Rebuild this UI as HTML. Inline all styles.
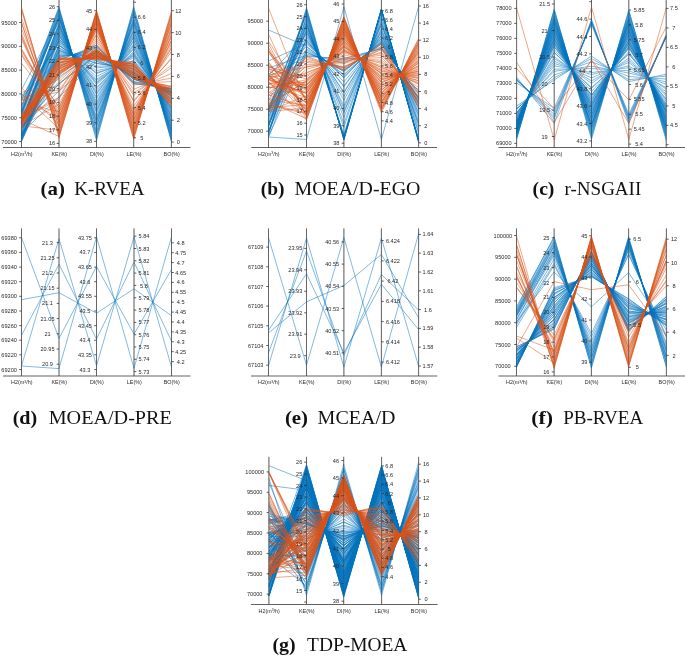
<!DOCTYPE html>
<html><head><meta charset="utf-8"><title>Figure</title>
<style>html,body{margin:0;padding:0;background:#fff;}body{width:685px;height:656px;overflow:hidden;font-family:"Liberation Sans",sans-serif;}svg{display:block;will-change:transform;}</style>
</head><body>
<svg width="685" height="656" viewBox="0 0 685 656" font-family="Liberation Sans, sans-serif" fill="#2a2a2a">
<line x1="21.5" y1="-1.0" x2="21.5" y2="147.5" stroke="#3a3a3a" stroke-width="0.72"/>
<line x1="59.0" y1="-1.0" x2="59.0" y2="147.5" stroke="#3a3a3a" stroke-width="0.72"/>
<line x1="96.5" y1="-1.0" x2="96.5" y2="147.5" stroke="#3a3a3a" stroke-width="0.72"/>
<line x1="133.7" y1="-1.0" x2="133.7" y2="147.5" stroke="#3a3a3a" stroke-width="0.72"/>
<line x1="171.4" y1="-1.0" x2="171.4" y2="147.5" stroke="#3a3a3a" stroke-width="0.72"/>
<path d="M21.5 136.7 L59.0 60.3 L96.5 45.2 L133.7 83.3 L171.4 88.9 M21.5 97.2 L59.0 59.5 L96.5 46.8 L133.7 81.3 L171.4 89.6 M21.5 140.7 L59.0 57.6 L96.5 49.4 L133.7 79.1 L171.4 91.4 M21.5 139.1 L59.0 57.0 L96.5 50.9 L133.7 78.3 L171.4 91.9 M21.5 136.5 L59.0 55.9 L96.5 53.1 L133.7 77.3 L171.4 92.7 M21.5 136.5 L59.0 55.2 L96.5 55.0 L133.7 75.0 L171.4 94.4 M21.5 136.1 L59.0 54.1 L96.5 55.8 L133.7 74.1 L171.4 94.4 M21.5 141.6 L59.0 52.7 L96.5 58.5 L133.7 72.7 L171.4 96.1 M21.5 139.7 L59.0 51.4 L96.5 61.1 L133.7 70.9 L171.4 97.1 M21.5 132.7 L59.0 50.1 L96.5 63.4 L133.7 69.1 L171.4 98.7 M21.5 137.5 L59.0 50.4 L96.5 63.4 L133.7 68.5 L171.4 98.7 M21.5 139.3 L59.0 48.5 L96.5 66.1 L133.7 66.1 L171.4 100.0 M21.5 134.8 L59.0 47.7 L96.5 67.8 L133.7 65.0 L171.4 100.7 M21.5 138.2 L59.0 45.7 L96.5 70.7 L133.7 62.7 L171.4 102.6 M21.5 128.9 L59.0 45.2 L96.5 72.7 L133.7 61.3 L171.4 103.6 M21.5 135.8 L59.0 44.8 L96.5 73.6 L133.7 60.3 L171.4 104.4 M21.5 96.6 L59.0 43.0 L96.5 76.6 L133.7 57.7 L171.4 106.5 M21.5 100.4 L59.0 41.7 L96.5 79.2 L133.7 56.0 L171.4 107.6 M21.5 131.8 L59.0 41.0 L96.5 80.5 L133.7 55.1 L171.4 108.2 M21.5 129.2 L59.0 39.4 L96.5 82.2 L133.7 54.0 L171.4 109.5 M21.5 125.2 L59.0 39.2 L96.5 83.1 L133.7 53.0 L171.4 109.4 M21.5 133.5 L59.0 38.2 L96.5 84.6 L133.7 51.6 L171.4 110.7 M21.5 132.3 L59.0 36.1 L96.5 87.5 L133.7 49.2 L171.4 112.1 M21.5 127.1 L59.0 35.9 L96.5 89.0 L133.7 48.1 L171.4 113.0 M21.5 123.4 L59.0 35.1 L96.5 91.2 L133.7 46.4 L171.4 114.2 M21.5 122.9 L59.0 33.9 L96.5 93.2 L133.7 45.0 L171.4 115.6 M21.5 123.7 L59.0 32.6 L96.5 94.3 L133.7 43.6 L171.4 116.2 M21.5 119.9 L59.0 31.6 L96.5 97.2 L133.7 41.1 L171.4 117.3 M21.5 123.3 L59.0 30.2 L96.5 99.0 L133.7 40.2 L171.4 118.3 M21.5 122.1 L59.0 28.9 L96.5 101.7 L133.7 37.5 L171.4 119.9 M21.5 121.8 L59.0 28.0 L96.5 103.5 L133.7 37.1 L171.4 121.1 M21.5 119.6 L59.0 26.2 L96.5 105.4 L133.7 35.1 L171.4 121.9 M21.5 124.5 L59.0 25.7 L96.5 107.1 L133.7 33.8 L171.4 123.0 M21.5 123.6 L59.0 24.8 L96.5 109.5 L133.7 31.5 L171.4 124.3 M21.5 120.3 L59.0 23.6 L96.5 111.2 L133.7 30.8 L171.4 125.6 M21.5 122.1 L59.0 22.9 L96.5 112.7 L133.7 29.4 L171.4 126.3 M21.5 100.0 L59.0 21.2 L96.5 115.8 L133.7 26.9 L171.4 127.8 M21.5 111.1 L59.0 19.4 L96.5 117.7 L133.7 25.1 L171.4 129.2 M21.5 111.5 L59.0 18.5 L96.5 119.6 L133.7 23.5 L171.4 129.8 M21.5 89.8 L59.0 17.9 L96.5 121.2 L133.7 22.7 L171.4 131.0 M21.5 115.2 L59.0 16.9 L96.5 122.0 L133.7 21.5 L171.4 131.4 M21.5 117.0 L59.0 16.5 L96.5 124.0 L133.7 19.9 L171.4 132.4 M21.5 112.4 L59.0 15.4 L96.5 126.4 L133.7 18.5 L171.4 133.7 M21.5 114.4 L59.0 14.3 L96.5 127.2 L133.7 17.6 L171.4 134.5 M21.5 114.4 L59.0 12.4 L96.5 131.0 L133.7 14.3 L171.4 136.4 M21.5 113.3 L59.0 11.5 L96.5 132.1 L133.7 13.3 L171.4 137.0 M21.5 110.7 L59.0 10.0 L96.5 134.6 L133.7 11.5 L171.4 138.9 M21.5 108.6 L59.0 9.3 L96.5 135.7 L133.7 10.7 L171.4 139.0 M21.5 106.3 L59.0 8.0 L96.5 138.7 L133.7 8.1 L171.4 140.7 M21.5 106.5 L59.0 6.8 L96.5 140.6 L133.7 6.8 L171.4 141.6 M21.5 141.0 L59.0 63.6 L96.5 45.1 L133.7 83.7 L171.4 88.2 M21.5 127.5 L59.0 67.3 L96.5 47.0 L133.7 82.1 L171.4 89.1 M21.5 136.3 L59.0 73.7 L96.5 50.9 L133.7 79.1 L171.4 90.7 M21.5 127.7 L59.0 76.8 L96.5 52.4 L133.7 79.2 L171.4 92.4 M21.5 127.1 L59.0 83.3 L96.5 54.9 L133.7 77.0 L171.4 92.4 M21.5 128.2 L59.0 83.8 L96.5 55.9 L133.7 76.2 L171.4 93.3 M21.5 127.4 L59.0 90.9 L96.5 59.7 L133.7 74.7 L171.4 95.4 M21.5 133.0 L59.0 96.9 L96.5 61.5 L133.7 72.7 L171.4 95.5" fill="none" stroke="#0072BD" stroke-width="0.5" stroke-opacity="1" stroke-linejoin="round"/>
<path d="M21.5 122.3 L59.0 57.0 L96.5 59.7 L133.7 61.9 L171.4 106.4 M21.5 115.1 L59.0 58.3 L96.5 59.6 L133.7 63.3 L171.4 106.2 M21.5 116.5 L59.0 58.8 L96.5 58.6 L133.7 63.9 L171.4 104.9 M21.5 123.0 L59.0 58.9 L96.5 58.5 L133.7 64.1 L171.4 104.8 M21.5 118.4 L59.0 59.5 L96.5 58.5 L133.7 64.7 L171.4 103.5 M21.5 127.5 L59.0 60.2 L96.5 57.4 L133.7 64.9 L171.4 103.2 M21.5 120.4 L59.0 60.2 L96.5 58.3 L133.7 65.9 L171.4 102.3 M21.5 121.0 L59.0 61.8 L96.5 57.1 L133.7 66.2 L171.4 102.3 M21.5 117.1 L59.0 62.4 L96.5 57.0 L133.7 66.5 L171.4 101.1 M21.5 117.9 L59.0 62.5 L96.5 56.3 L133.7 67.2 L171.4 100.7 M21.5 125.0 L59.0 62.9 L96.5 56.6 L133.7 67.7 L171.4 100.5 M21.5 118.1 L59.0 63.1 L96.5 56.4 L133.7 68.5 L171.4 99.4 M21.5 117.7 L59.0 64.4 L96.5 55.6 L133.7 69.1 L171.4 98.6 M21.5 120.4 L59.0 65.0 L96.5 55.7 L133.7 68.8 L171.4 97.6 M21.5 122.3 L59.0 65.3 L96.5 54.7 L133.7 69.9 L171.4 96.3 M21.5 126.6 L59.0 66.1 L96.5 54.3 L133.7 70.5 L171.4 96.0 M21.5 120.4 L59.0 66.4 L96.5 54.3 L133.7 71.4 L171.4 95.8 M21.5 122.2 L59.0 67.7 L96.5 53.5 L133.7 72.1 L171.4 95.2 M21.5 115.2 L59.0 68.3 L96.5 53.3 L133.7 72.2 L171.4 93.8 M21.5 115.1 L59.0 68.4 L96.5 53.0 L133.7 73.0 L171.4 93.4 M21.5 118.2 L59.0 69.2 L96.5 52.2 L133.7 73.3 L171.4 93.0 M21.5 122.5 L59.0 69.4 L96.5 52.5 L133.7 73.8 L171.4 91.8 M21.5 118.8 L59.0 70.9 L96.5 52.2 L133.7 74.7 L171.4 91.5 M21.5 119.4 L59.0 71.3 L96.5 51.9 L133.7 75.0 L171.4 90.5 M21.5 126.5 L59.0 71.1 L96.5 51.0 L133.7 75.6 L171.4 90.6 M21.5 121.7 L59.0 71.8 L96.5 51.0 L133.7 76.8 L171.4 88.9 M21.5 122.2 L59.0 72.7 L96.5 50.9 L133.7 77.1 L171.4 88.9 M21.5 123.5 L59.0 72.8 L96.5 49.6 L133.7 77.7 L171.4 88.3 M21.5 121.8 L59.0 74.1 L96.5 49.8 L133.7 77.8 L171.4 86.9 M21.5 122.1 L59.0 74.1 L96.5 49.3 L133.7 78.9 L171.4 86.9 M21.5 126.8 L59.0 75.3 L96.5 49.3 L133.7 79.1 L171.4 86.1 M21.5 100.2 L59.0 78.9 L96.5 47.2 L133.7 83.0 L171.4 81.7 M21.5 119.6 L59.0 81.7 L96.5 44.7 L133.7 85.2 L171.4 78.1 M21.5 92.2 L59.0 85.6 L96.5 42.2 L133.7 89.4 L171.4 73.4 M21.5 97.7 L59.0 90.0 L96.5 40.1 L133.7 93.0 L171.4 67.9 M21.5 100.3 L59.0 91.9 L96.5 37.9 L133.7 95.4 L171.4 65.1 M21.5 118.7 L59.0 97.2 L96.5 34.8 L133.7 100.4 L171.4 59.0 M21.5 119.1 L59.0 99.2 L96.5 34.3 L133.7 101.7 L171.4 58.1 M21.5 126.0 L59.0 104.3 L96.5 31.3 L133.7 106.4 L171.4 51.4 M21.5 54.2 L59.0 107.1 L96.5 29.3 L133.7 109.5 L171.4 48.5 M21.5 51.5 L59.0 107.8 L96.5 28.7 L133.7 110.8 L171.4 47.3 M21.5 63.3 L59.0 109.6 L96.5 27.4 L133.7 112.7 L171.4 44.8 M21.5 102.9 L59.0 111.6 L96.5 26.2 L133.7 114.3 L171.4 42.2 M21.5 48.6 L59.0 112.6 L96.5 25.4 L133.7 115.6 L171.4 40.6 M21.5 55.2 L59.0 114.0 L96.5 25.5 L133.7 116.0 L171.4 40.3 M21.5 49.7 L59.0 116.6 L96.5 23.3 L133.7 118.6 L171.4 37.1 M21.5 39.5 L59.0 117.2 L96.5 22.5 L133.7 119.4 L171.4 35.8 M21.5 99.1 L59.0 117.9 L96.5 22.3 L133.7 120.4 L171.4 35.2 M21.5 28.5 L59.0 120.1 L96.5 21.4 L133.7 122.0 L171.4 32.6 M21.5 35.9 L59.0 121.8 L96.5 20.1 L133.7 123.6 L171.4 30.8 M21.5 37.1 L59.0 122.7 L96.5 19.5 L133.7 125.0 L171.4 29.1 M21.5 87.8 L59.0 124.6 L96.5 18.9 L133.7 126.2 L171.4 27.7 M21.5 33.2 L59.0 126.0 L96.5 17.6 L133.7 128.4 L171.4 24.9 M21.5 17.9 L59.0 126.9 L96.5 16.6 L133.7 128.7 L171.4 23.7 M21.5 93.7 L59.0 128.8 L96.5 15.9 L133.7 130.7 L171.4 22.6 M21.5 125.8 L59.0 130.3 L96.5 14.5 L133.7 131.9 L171.4 20.7 M21.5 10.7 L59.0 132.2 L96.5 13.4 L133.7 133.5 L171.4 18.3 M21.5 22.5 L59.0 132.2 L96.5 14.2 L133.7 134.0 L171.4 18.5 M21.5 22.7 L59.0 134.5 L96.5 12.3 L133.7 135.9 L171.4 15.4 M21.5 7.5 L59.0 136.3 L96.5 11.8 L133.7 137.1 L171.4 14.3 M21.5 119.4 L59.0 136.5 L96.5 11.1 L133.7 138.3 L171.4 12.8 M21.5 8.5 L59.0 138.1 L96.5 10.5 L133.7 139.3 L171.4 11.4" fill="none" stroke="#D95319" stroke-width="0.5" stroke-opacity="1" stroke-linejoin="round"/>
<line x1="21.5" y1="-1.0" x2="21.5" y2="147.5" stroke="#3a3a3a" stroke-width="0.72" stroke-opacity="0.3"/>
<line x1="59.0" y1="-1.0" x2="59.0" y2="147.5" stroke="#3a3a3a" stroke-width="0.72" stroke-opacity="0.3"/>
<line x1="96.5" y1="-1.0" x2="96.5" y2="147.5" stroke="#3a3a3a" stroke-width="0.72" stroke-opacity="0.3"/>
<line x1="133.7" y1="-1.0" x2="133.7" y2="147.5" stroke="#3a3a3a" stroke-width="0.72" stroke-opacity="0.3"/>
<line x1="171.4" y1="-1.0" x2="171.4" y2="147.5" stroke="#3a3a3a" stroke-width="0.72" stroke-opacity="0.3"/>
<line x1="3.0" y1="147.5" x2="190.4" y2="147.5" stroke="#444" stroke-width="0.85"/>
<line x1="19.2" y1="22.5" x2="21.5" y2="22.5" stroke="#2a2a2a" stroke-width="0.75"/>
<text x="9.1" y="24.5" text-anchor="middle" font-size="5.6">95000</text>
<line x1="19.2" y1="46.3" x2="21.5" y2="46.3" stroke="#2a2a2a" stroke-width="0.75"/>
<text x="9.1" y="48.3" text-anchor="middle" font-size="5.6">90000</text>
<line x1="19.2" y1="70.1" x2="21.5" y2="70.1" stroke="#2a2a2a" stroke-width="0.75"/>
<text x="9.1" y="72.1" text-anchor="middle" font-size="5.6">85000</text>
<line x1="19.2" y1="93.9" x2="21.5" y2="93.9" stroke="#2a2a2a" stroke-width="0.75"/>
<text x="9.1" y="95.9" text-anchor="middle" font-size="5.6">80000</text>
<line x1="19.2" y1="117.7" x2="21.5" y2="117.7" stroke="#2a2a2a" stroke-width="0.75"/>
<text x="9.1" y="119.7" text-anchor="middle" font-size="5.6">75000</text>
<line x1="19.2" y1="141.5" x2="21.5" y2="141.5" stroke="#2a2a2a" stroke-width="0.75"/>
<text x="9.1" y="143.5" text-anchor="middle" font-size="5.6">70000</text>
<line x1="56.7" y1="6.7" x2="59.0" y2="6.7" stroke="#2a2a2a" stroke-width="0.75"/>
<text x="52.0" y="8.7" text-anchor="middle" font-size="5.6">26</text>
<line x1="56.7" y1="20.4" x2="59.0" y2="20.4" stroke="#2a2a2a" stroke-width="0.75"/>
<text x="52.0" y="22.4" text-anchor="middle" font-size="5.6">25</text>
<line x1="56.7" y1="34.0" x2="59.0" y2="34.0" stroke="#2a2a2a" stroke-width="0.75"/>
<text x="52.0" y="36.1" text-anchor="middle" font-size="5.6">24</text>
<line x1="56.7" y1="47.7" x2="59.0" y2="47.7" stroke="#2a2a2a" stroke-width="0.75"/>
<text x="52.0" y="49.7" text-anchor="middle" font-size="5.6">23</text>
<line x1="56.7" y1="61.4" x2="59.0" y2="61.4" stroke="#2a2a2a" stroke-width="0.75"/>
<text x="52.0" y="63.4" text-anchor="middle" font-size="5.6">22</text>
<line x1="56.7" y1="75.0" x2="59.0" y2="75.0" stroke="#2a2a2a" stroke-width="0.75"/>
<text x="52.0" y="77.1" text-anchor="middle" font-size="5.6">21</text>
<line x1="56.7" y1="88.7" x2="59.0" y2="88.7" stroke="#2a2a2a" stroke-width="0.75"/>
<text x="52.0" y="90.7" text-anchor="middle" font-size="5.6">20</text>
<line x1="56.7" y1="102.4" x2="59.0" y2="102.4" stroke="#2a2a2a" stroke-width="0.75"/>
<text x="52.0" y="104.4" text-anchor="middle" font-size="5.6">19</text>
<line x1="56.7" y1="116.1" x2="59.0" y2="116.1" stroke="#2a2a2a" stroke-width="0.75"/>
<text x="52.0" y="118.1" text-anchor="middle" font-size="5.6">18</text>
<line x1="56.7" y1="129.7" x2="59.0" y2="129.7" stroke="#2a2a2a" stroke-width="0.75"/>
<text x="52.0" y="131.7" text-anchor="middle" font-size="5.6">17</text>
<line x1="56.7" y1="143.4" x2="59.0" y2="143.4" stroke="#2a2a2a" stroke-width="0.75"/>
<text x="52.0" y="145.4" text-anchor="middle" font-size="5.6">16</text>
<line x1="94.2" y1="10.7" x2="96.5" y2="10.7" stroke="#2a2a2a" stroke-width="0.75"/>
<text x="89.0" y="12.7" text-anchor="middle" font-size="5.6">45</text>
<line x1="94.2" y1="29.4" x2="96.5" y2="29.4" stroke="#2a2a2a" stroke-width="0.75"/>
<text x="89.0" y="31.4" text-anchor="middle" font-size="5.6">44</text>
<line x1="94.2" y1="48.0" x2="96.5" y2="48.0" stroke="#2a2a2a" stroke-width="0.75"/>
<text x="89.0" y="50.1" text-anchor="middle" font-size="5.6">43</text>
<line x1="94.2" y1="66.7" x2="96.5" y2="66.7" stroke="#2a2a2a" stroke-width="0.75"/>
<text x="89.0" y="68.7" text-anchor="middle" font-size="5.6">42</text>
<line x1="94.2" y1="85.4" x2="96.5" y2="85.4" stroke="#2a2a2a" stroke-width="0.75"/>
<text x="89.0" y="87.4" text-anchor="middle" font-size="5.6">41</text>
<line x1="94.2" y1="104.1" x2="96.5" y2="104.1" stroke="#2a2a2a" stroke-width="0.75"/>
<text x="89.0" y="106.1" text-anchor="middle" font-size="5.6">40</text>
<line x1="94.2" y1="122.7" x2="96.5" y2="122.7" stroke="#2a2a2a" stroke-width="0.75"/>
<text x="89.0" y="124.7" text-anchor="middle" font-size="5.6">39</text>
<line x1="94.2" y1="141.4" x2="96.5" y2="141.4" stroke="#2a2a2a" stroke-width="0.75"/>
<text x="89.0" y="143.4" text-anchor="middle" font-size="5.6">38</text>
<line x1="133.7" y1="2.2" x2="136.0" y2="2.2" stroke="#2a2a2a" stroke-width="0.75"/>
<line x1="133.7" y1="17.2" x2="136.0" y2="17.2" stroke="#2a2a2a" stroke-width="0.75"/>
<text x="141.7" y="19.2" text-anchor="middle" font-size="5.6">6.6</text>
<line x1="133.7" y1="32.3" x2="136.0" y2="32.3" stroke="#2a2a2a" stroke-width="0.75"/>
<text x="141.7" y="34.3" text-anchor="middle" font-size="5.6">6.4</text>
<line x1="133.7" y1="47.4" x2="136.0" y2="47.4" stroke="#2a2a2a" stroke-width="0.75"/>
<text x="141.7" y="49.4" text-anchor="middle" font-size="5.6">6.2</text>
<line x1="133.7" y1="62.4" x2="136.0" y2="62.4" stroke="#2a2a2a" stroke-width="0.75"/>
<text x="141.7" y="64.5" text-anchor="middle" font-size="5.6">6</text>
<line x1="133.7" y1="77.5" x2="136.0" y2="77.5" stroke="#2a2a2a" stroke-width="0.75"/>
<text x="141.7" y="79.5" text-anchor="middle" font-size="5.6">5.8</text>
<line x1="133.7" y1="92.6" x2="136.0" y2="92.6" stroke="#2a2a2a" stroke-width="0.75"/>
<text x="141.7" y="94.6" text-anchor="middle" font-size="5.6">5.6</text>
<line x1="133.7" y1="107.7" x2="136.0" y2="107.7" stroke="#2a2a2a" stroke-width="0.75"/>
<text x="141.7" y="109.7" text-anchor="middle" font-size="5.6">5.4</text>
<line x1="133.7" y1="122.8" x2="136.0" y2="122.8" stroke="#2a2a2a" stroke-width="0.75"/>
<text x="141.7" y="124.8" text-anchor="middle" font-size="5.6">5.2</text>
<line x1="133.7" y1="137.8" x2="136.0" y2="137.8" stroke="#2a2a2a" stroke-width="0.75"/>
<text x="141.7" y="139.9" text-anchor="middle" font-size="5.6">5</text>
<line x1="171.4" y1="10.7" x2="173.7" y2="10.7" stroke="#2a2a2a" stroke-width="0.75"/>
<text x="178.3" y="12.7" text-anchor="middle" font-size="5.6">12</text>
<line x1="171.4" y1="32.6" x2="173.7" y2="32.6" stroke="#2a2a2a" stroke-width="0.75"/>
<text x="178.3" y="34.6" text-anchor="middle" font-size="5.6">10</text>
<line x1="171.4" y1="54.5" x2="173.7" y2="54.5" stroke="#2a2a2a" stroke-width="0.75"/>
<text x="178.3" y="56.5" text-anchor="middle" font-size="5.6">8</text>
<line x1="171.4" y1="76.4" x2="173.7" y2="76.4" stroke="#2a2a2a" stroke-width="0.75"/>
<text x="178.3" y="78.4" text-anchor="middle" font-size="5.6">6</text>
<line x1="171.4" y1="98.3" x2="173.7" y2="98.3" stroke="#2a2a2a" stroke-width="0.75"/>
<text x="178.3" y="100.3" text-anchor="middle" font-size="5.6">4</text>
<line x1="171.4" y1="120.2" x2="173.7" y2="120.2" stroke="#2a2a2a" stroke-width="0.75"/>
<text x="178.3" y="122.2" text-anchor="middle" font-size="5.6">2</text>
<line x1="171.4" y1="142.1" x2="173.7" y2="142.1" stroke="#2a2a2a" stroke-width="0.75"/>
<text x="178.3" y="144.1" text-anchor="middle" font-size="5.6">0</text>
<text x="21.8" y="155.8" text-anchor="middle" font-size="5.4">H2(m<tspan font-size='3.4' dy='-1.6'>3</tspan><tspan dy='1.6'>/h)</tspan></text>
<text x="59.3" y="155.8" text-anchor="middle" font-size="5.4">KE(%)</text>
<text x="96.8" y="155.8" text-anchor="middle" font-size="5.4">DI(%)</text>
<text x="134.0" y="155.8" text-anchor="middle" font-size="5.4">LE(%)</text>
<text x="171.7" y="155.8" text-anchor="middle" font-size="5.4">BO(%)</text>
<text x="40.6" y="194.7" textLength="24.4" lengthAdjust="spacingAndGlyphs" font-family="Liberation Serif, serif" font-weight="bold" font-size="18.3" fill="#111">(a)</text>
<text x="74.2" y="194.7" textLength="70.4" lengthAdjust="spacingAndGlyphs" font-family="Liberation Serif, serif" font-size="18.3" fill="#111">K-RVEA</text>
<line x1="268.5" y1="-1.0" x2="268.5" y2="147.5" stroke="#3a3a3a" stroke-width="0.72"/>
<line x1="306.5" y1="-1.0" x2="306.5" y2="147.5" stroke="#3a3a3a" stroke-width="0.72"/>
<line x1="343.9" y1="-1.0" x2="343.9" y2="147.5" stroke="#3a3a3a" stroke-width="0.72"/>
<line x1="381.4" y1="-1.0" x2="381.4" y2="147.5" stroke="#3a3a3a" stroke-width="0.72"/>
<line x1="418.6" y1="-1.0" x2="418.6" y2="147.5" stroke="#3a3a3a" stroke-width="0.72"/>
<path d="M268.5 132.6 L306.5 7.7 L343.9 139.8 L381.4 9.0 L418.6 142.3 M268.5 127.2 L306.5 9.0 L343.9 139.7 L381.4 9.2 L418.6 141.4 M268.5 135.2 L306.5 10.0 L343.9 139.6 L381.4 8.8 L418.6 141.5 M268.5 125.4 L306.5 11.7 L343.9 139.1 L381.4 9.8 L418.6 141.0 M268.5 109.2 L306.5 12.5 L343.9 138.8 L381.4 9.5 L418.6 140.9 M268.5 110.4 L306.5 13.8 L343.9 138.3 L381.4 9.5 L418.6 141.0 M268.5 109.3 L306.5 15.1 L343.9 137.9 L381.4 9.9 L418.6 140.4 M268.5 134.2 L306.5 16.7 L343.9 137.4 L381.4 9.9 L418.6 140.3 M268.5 126.5 L306.5 17.9 L343.9 137.2 L381.4 10.4 L418.6 140.4 M268.5 112.6 L306.5 19.4 L343.9 137.1 L381.4 10.5 L418.6 140.4 M268.5 133.2 L306.5 21.4 L343.9 137.0 L381.4 10.4 L418.6 140.1 M268.5 113.7 L306.5 22.3 L343.9 134.4 L381.4 12.0 L418.6 138.5 M268.5 126.3 L306.5 23.9 L343.9 127.3 L381.4 15.1 L418.6 133.9 M268.5 121.9 L306.5 24.5 L343.9 123.4 L381.4 16.9 L418.6 131.6 M268.5 124.4 L306.5 26.0 L343.9 117.6 L381.4 19.9 L418.6 128.4 M268.5 119.3 L306.5 27.0 L343.9 113.2 L381.4 21.7 L418.6 125.4 M268.5 131.6 L306.5 29.1 L343.9 111.6 L381.4 23.6 L418.6 123.6 M268.5 116.8 L306.5 30.1 L343.9 108.4 L381.4 24.0 L418.6 122.9 M268.5 117.0 L306.5 31.4 L343.9 105.8 L381.4 25.7 L418.6 120.3 M268.5 110.8 L306.5 32.5 L343.9 100.4 L381.4 28.7 L418.6 116.9 M268.5 76.0 L306.5 34.1 L343.9 96.6 L381.4 30.2 L418.6 115.0 M268.5 113.7 L306.5 35.5 L343.9 93.0 L381.4 31.6 L418.6 113.1 M268.5 137.5 L306.5 37.1 L343.9 91.9 L381.4 32.9 L418.6 111.5 M268.5 130.9 L306.5 39.1 L343.9 86.9 L381.4 35.2 L418.6 108.7 M268.5 107.6 L306.5 40.3 L343.9 85.9 L381.4 35.3 L418.6 108.1 M268.5 100.0 L306.5 41.1 L343.9 82.0 L381.4 37.0 L418.6 105.7 M268.5 123.7 L306.5 42.7 L343.9 77.7 L381.4 38.7 L418.6 103.9 M268.5 61.0 L306.5 43.8 L343.9 77.4 L381.4 39.0 L418.6 103.6 M268.5 30.0 L306.5 46.2 L343.9 75.4 L381.4 40.3 L418.6 101.7 M268.5 74.2 L306.5 46.9 L343.9 74.4 L381.4 41.3 L418.6 100.9 M268.5 105.4 L306.5 48.8 L343.9 71.7 L381.4 42.0 L418.6 99.2 M268.5 124.6 L306.5 50.1 L343.9 71.0 L381.4 42.5 L418.6 98.6 M268.5 110.2 L306.5 51.8 L343.9 69.9 L381.4 43.5 L418.6 98.2 M268.5 130.9 L306.5 52.1 L343.9 68.5 L381.4 44.3 L418.6 97.4 M268.5 136.5 L306.5 53.9 L343.9 63.1 L381.4 46.6 L418.6 93.9 M268.5 67.9 L306.5 55.4 L343.9 60.2 L381.4 48.2 L418.6 92.5 M268.5 76.8 L306.5 56.5 L343.9 58.5 L381.4 48.7 L418.6 91.2 M268.5 137.0 L306.5 139.5 L343.9 6.9 L381.4 139.5 L418.6 6.4" fill="none" stroke="#0072BD" stroke-width="0.5" stroke-opacity="1" stroke-linejoin="round"/>
<path d="M268.5 112.0 L306.5 56.2 L343.9 70.1 L381.4 43.5 L418.6 106.8 M268.5 90.0 L306.5 57.4 L343.9 70.3 L381.4 43.9 L418.6 105.9 M268.5 95.3 L306.5 59.3 L343.9 67.8 L381.4 47.4 L418.6 103.3 M268.5 79.4 L306.5 61.0 L343.9 67.2 L381.4 48.8 L418.6 101.5 M268.5 102.9 L306.5 62.4 L343.9 66.5 L381.4 49.6 L418.6 101.0 M268.5 107.2 L306.5 64.8 L343.9 63.7 L381.4 52.2 L418.6 98.0 M268.5 92.8 L306.5 66.7 L343.9 61.9 L381.4 53.4 L418.6 96.7 M268.5 75.3 L306.5 67.0 L343.9 61.0 L381.4 55.1 L418.6 95.4 M268.5 100.4 L306.5 69.3 L343.9 59.3 L381.4 57.6 L418.6 93.3 M268.5 84.5 L306.5 72.5 L343.9 58.2 L381.4 60.1 L418.6 90.1 M268.5 96.3 L306.5 73.1 L343.9 57.1 L381.4 61.8 L418.6 89.9 M268.5 76.7 L306.5 75.2 L343.9 54.8 L381.4 63.3 L418.6 87.4 M268.5 66.9 L306.5 76.8 L343.9 52.8 L381.4 65.8 L418.6 84.4 M268.5 69.2 L306.5 78.9 L343.9 51.4 L381.4 67.3 L418.6 83.6 M268.5 87.7 L306.5 79.7 L343.9 50.9 L381.4 67.7 L418.6 82.6 M268.5 105.7 L306.5 80.3 L343.9 50.5 L381.4 69.4 L418.6 80.8 M268.5 104.0 L306.5 81.3 L343.9 49.7 L381.4 70.5 L418.6 80.6 M268.5 83.1 L306.5 82.4 L343.9 48.8 L381.4 71.3 L418.6 78.5 M268.5 87.9 L306.5 84.2 L343.9 47.3 L381.4 72.9 L418.6 77.9 M268.5 68.4 L306.5 84.6 L343.9 46.8 L381.4 73.5 L418.6 77.0 M268.5 75.8 L306.5 85.7 L343.9 46.0 L381.4 74.0 L418.6 75.7 M268.5 80.6 L306.5 85.7 L343.9 46.1 L381.4 75.8 L418.6 75.0 M268.5 77.9 L306.5 88.0 L343.9 44.4 L381.4 77.1 L418.6 73.9 M268.5 65.2 L306.5 87.5 L343.9 44.6 L381.4 77.2 L418.6 73.1 M268.5 71.1 L306.5 89.0 L343.9 42.7 L381.4 78.7 L418.6 71.8 M268.5 51.7 L306.5 90.0 L343.9 41.4 L381.4 79.4 L418.6 71.2 M268.5 66.0 L306.5 90.7 L343.9 42.4 L381.4 80.0 L418.6 70.8 M268.5 83.1 L306.5 91.6 L343.9 40.2 L381.4 81.6 L418.6 69.4 M268.5 79.0 L306.5 93.2 L343.9 40.7 L381.4 82.5 L418.6 68.5 M268.5 84.4 L306.5 93.1 L343.9 38.7 L381.4 82.9 L418.6 67.0 M268.5 79.1 L306.5 93.7 L343.9 38.2 L381.4 85.0 L418.6 65.6 M268.5 111.4 L306.5 95.6 L343.9 37.7 L381.4 85.8 L418.6 65.8 M268.5 72.9 L306.5 97.4 L343.9 36.4 L381.4 87.3 L418.6 63.3 M268.5 86.6 L306.5 97.3 L343.9 35.6 L381.4 87.8 L418.6 62.9 M268.5 52.9 L306.5 98.7 L343.9 34.5 L381.4 89.8 L418.6 61.2 M268.5 41.5 L306.5 99.6 L343.9 34.2 L381.4 90.5 L418.6 60.5 M268.5 50.6 L306.5 100.1 L343.9 33.5 L381.4 90.1 L418.6 59.9 M268.5 76.3 L306.5 102.3 L343.9 32.0 L381.4 92.7 L418.6 58.3 M268.5 79.1 L306.5 102.7 L343.9 32.1 L381.4 93.0 L418.6 57.1 M268.5 76.7 L306.5 103.3 L343.9 31.8 L381.4 93.5 L418.6 56.5 M268.5 107.5 L306.5 104.7 L343.9 29.8 L381.4 95.4 L418.6 55.0 M268.5 99.6 L306.5 105.6 L343.9 29.2 L381.4 96.3 L418.6 53.9 M268.5 94.9 L306.5 106.9 L343.9 28.1 L381.4 97.4 L418.6 52.7 M268.5 68.9 L306.5 106.9 L343.9 27.6 L381.4 98.4 L418.6 52.3 M268.5 111.6 L306.5 107.8 L343.9 27.8 L381.4 99.2 L418.6 51.5 M268.5 62.9 L306.5 109.7 L343.9 25.5 L381.4 101.0 L418.6 50.4 M268.5 74.6 L306.5 110.3 L343.9 26.1 L381.4 101.2 L418.6 49.9 M268.5 62.0 L306.5 111.2 L343.9 24.2 L381.4 102.6 L418.6 48.5 M268.5 91.6 L306.5 111.5 L343.9 24.0 L381.4 102.5 L418.6 47.6 M268.5 103.9 L306.5 112.9 L343.9 23.7 L381.4 104.2 L418.6 46.9 M268.5 105.4 L306.5 113.6 L343.9 21.6 L381.4 104.5 L418.6 45.3 M268.5 74.9 L306.5 114.2 L343.9 21.2 L381.4 106.6 L418.6 44.7 M268.5 47.6 L306.5 115.3 L343.9 20.6 L381.4 107.9 L418.6 43.7 M268.5 43.9 L306.5 115.8 L343.9 19.6 L381.4 107.9 L418.6 42.7 M268.5 34.0 L306.5 116.9 L343.9 18.6 L381.4 109.3 L418.6 41.6 M268.5 101.5 L306.5 118.7 L343.9 17.9 L381.4 109.9 L418.6 41.1 M268.5 49.8 L306.5 119.3 L343.9 17.1 L381.4 110.9 L418.6 39.4 M268.5 81.4 L306.5 120.1 L343.9 16.7 L381.4 112.8 L418.6 38.3 M268.5 8.0 L306.5 104.0 L343.9 30.0 L381.4 97.0 L418.6 62.0" fill="none" stroke="#D95319" stroke-width="0.5" stroke-opacity="1" stroke-linejoin="round"/>
<line x1="268.5" y1="-1.0" x2="268.5" y2="147.5" stroke="#3a3a3a" stroke-width="0.72" stroke-opacity="0.3"/>
<line x1="306.5" y1="-1.0" x2="306.5" y2="147.5" stroke="#3a3a3a" stroke-width="0.72" stroke-opacity="0.3"/>
<line x1="343.9" y1="-1.0" x2="343.9" y2="147.5" stroke="#3a3a3a" stroke-width="0.72" stroke-opacity="0.3"/>
<line x1="381.4" y1="-1.0" x2="381.4" y2="147.5" stroke="#3a3a3a" stroke-width="0.72" stroke-opacity="0.3"/>
<line x1="418.6" y1="-1.0" x2="418.6" y2="147.5" stroke="#3a3a3a" stroke-width="0.72" stroke-opacity="0.3"/>
<line x1="251.2" y1="147.5" x2="437.0" y2="147.5" stroke="#444" stroke-width="0.85"/>
<line x1="266.2" y1="21.2" x2="268.5" y2="21.2" stroke="#2a2a2a" stroke-width="0.75"/>
<text x="255.3" y="23.2" text-anchor="middle" font-size="5.6">95000</text>
<line x1="266.2" y1="43.2" x2="268.5" y2="43.2" stroke="#2a2a2a" stroke-width="0.75"/>
<text x="255.3" y="45.2" text-anchor="middle" font-size="5.6">90000</text>
<line x1="266.2" y1="65.2" x2="268.5" y2="65.2" stroke="#2a2a2a" stroke-width="0.75"/>
<text x="255.3" y="67.2" text-anchor="middle" font-size="5.6">85000</text>
<line x1="266.2" y1="87.2" x2="268.5" y2="87.2" stroke="#2a2a2a" stroke-width="0.75"/>
<text x="255.3" y="89.2" text-anchor="middle" font-size="5.6">80000</text>
<line x1="266.2" y1="109.2" x2="268.5" y2="109.2" stroke="#2a2a2a" stroke-width="0.75"/>
<text x="255.3" y="111.2" text-anchor="middle" font-size="5.6">75000</text>
<line x1="266.2" y1="131.2" x2="268.5" y2="131.2" stroke="#2a2a2a" stroke-width="0.75"/>
<text x="255.3" y="133.2" text-anchor="middle" font-size="5.6">70000</text>
<line x1="304.2" y1="4.7" x2="306.5" y2="4.7" stroke="#2a2a2a" stroke-width="0.75"/>
<text x="299.5" y="6.7" text-anchor="middle" font-size="5.6">26</text>
<line x1="304.2" y1="16.6" x2="306.5" y2="16.6" stroke="#2a2a2a" stroke-width="0.75"/>
<text x="299.5" y="18.6" text-anchor="middle" font-size="5.6">25</text>
<line x1="304.2" y1="28.4" x2="306.5" y2="28.4" stroke="#2a2a2a" stroke-width="0.75"/>
<text x="299.5" y="30.4" text-anchor="middle" font-size="5.6">24</text>
<line x1="304.2" y1="40.2" x2="306.5" y2="40.2" stroke="#2a2a2a" stroke-width="0.75"/>
<text x="299.5" y="42.3" text-anchor="middle" font-size="5.6">23</text>
<line x1="304.2" y1="52.1" x2="306.5" y2="52.1" stroke="#2a2a2a" stroke-width="0.75"/>
<text x="299.5" y="54.1" text-anchor="middle" font-size="5.6">22</text>
<line x1="304.2" y1="64.0" x2="306.5" y2="64.0" stroke="#2a2a2a" stroke-width="0.75"/>
<text x="299.5" y="66.0" text-anchor="middle" font-size="5.6">21</text>
<line x1="304.2" y1="75.8" x2="306.5" y2="75.8" stroke="#2a2a2a" stroke-width="0.75"/>
<text x="299.5" y="77.8" text-anchor="middle" font-size="5.6">20</text>
<line x1="304.2" y1="87.7" x2="306.5" y2="87.7" stroke="#2a2a2a" stroke-width="0.75"/>
<text x="299.5" y="89.7" text-anchor="middle" font-size="5.6">19</text>
<line x1="304.2" y1="99.5" x2="306.5" y2="99.5" stroke="#2a2a2a" stroke-width="0.75"/>
<text x="299.5" y="101.5" text-anchor="middle" font-size="5.6">18</text>
<line x1="304.2" y1="111.3" x2="306.5" y2="111.3" stroke="#2a2a2a" stroke-width="0.75"/>
<text x="299.5" y="113.4" text-anchor="middle" font-size="5.6">17</text>
<line x1="304.2" y1="123.2" x2="306.5" y2="123.2" stroke="#2a2a2a" stroke-width="0.75"/>
<text x="299.5" y="125.2" text-anchor="middle" font-size="5.6">16</text>
<line x1="304.2" y1="135.0" x2="306.5" y2="135.0" stroke="#2a2a2a" stroke-width="0.75"/>
<text x="299.5" y="137.1" text-anchor="middle" font-size="5.6">15</text>
<line x1="341.6" y1="4.0" x2="343.9" y2="4.0" stroke="#2a2a2a" stroke-width="0.75"/>
<text x="336.3" y="6.0" text-anchor="middle" font-size="5.6">46</text>
<line x1="341.6" y1="21.4" x2="343.9" y2="21.4" stroke="#2a2a2a" stroke-width="0.75"/>
<text x="336.3" y="23.4" text-anchor="middle" font-size="5.6">45</text>
<line x1="341.6" y1="38.8" x2="343.9" y2="38.8" stroke="#2a2a2a" stroke-width="0.75"/>
<text x="336.3" y="40.8" text-anchor="middle" font-size="5.6">44</text>
<line x1="341.6" y1="56.2" x2="343.9" y2="56.2" stroke="#2a2a2a" stroke-width="0.75"/>
<text x="336.3" y="58.2" text-anchor="middle" font-size="5.6">43</text>
<line x1="341.6" y1="73.6" x2="343.9" y2="73.6" stroke="#2a2a2a" stroke-width="0.75"/>
<text x="336.3" y="75.6" text-anchor="middle" font-size="5.6">42</text>
<line x1="341.6" y1="91.0" x2="343.9" y2="91.0" stroke="#2a2a2a" stroke-width="0.75"/>
<text x="336.3" y="93.0" text-anchor="middle" font-size="5.6">41</text>
<line x1="341.6" y1="108.4" x2="343.9" y2="108.4" stroke="#2a2a2a" stroke-width="0.75"/>
<text x="336.3" y="110.4" text-anchor="middle" font-size="5.6">40</text>
<line x1="341.6" y1="125.8" x2="343.9" y2="125.8" stroke="#2a2a2a" stroke-width="0.75"/>
<text x="336.3" y="127.8" text-anchor="middle" font-size="5.6">39</text>
<line x1="341.6" y1="143.2" x2="343.9" y2="143.2" stroke="#2a2a2a" stroke-width="0.75"/>
<text x="336.3" y="145.2" text-anchor="middle" font-size="5.6">38</text>
<line x1="381.4" y1="10.7" x2="383.7" y2="10.7" stroke="#2a2a2a" stroke-width="0.75"/>
<text x="389.0" y="12.7" text-anchor="middle" font-size="5.6">6.8</text>
<line x1="381.4" y1="19.9" x2="383.7" y2="19.9" stroke="#2a2a2a" stroke-width="0.75"/>
<text x="389.0" y="21.9" text-anchor="middle" font-size="5.6">6.6</text>
<line x1="381.4" y1="29.1" x2="383.7" y2="29.1" stroke="#2a2a2a" stroke-width="0.75"/>
<text x="389.0" y="31.1" text-anchor="middle" font-size="5.6">6.4</text>
<line x1="381.4" y1="38.2" x2="383.7" y2="38.2" stroke="#2a2a2a" stroke-width="0.75"/>
<text x="389.0" y="40.3" text-anchor="middle" font-size="5.6">6.2</text>
<line x1="381.4" y1="47.4" x2="383.7" y2="47.4" stroke="#2a2a2a" stroke-width="0.75"/>
<text x="389.0" y="49.4" text-anchor="middle" font-size="5.6">6</text>
<line x1="381.4" y1="56.6" x2="383.7" y2="56.6" stroke="#2a2a2a" stroke-width="0.75"/>
<text x="389.0" y="58.6" text-anchor="middle" font-size="5.6">5.8</text>
<line x1="381.4" y1="65.8" x2="383.7" y2="65.8" stroke="#2a2a2a" stroke-width="0.75"/>
<text x="389.0" y="67.8" text-anchor="middle" font-size="5.6">5.6</text>
<line x1="381.4" y1="75.0" x2="383.7" y2="75.0" stroke="#2a2a2a" stroke-width="0.75"/>
<text x="389.0" y="77.0" text-anchor="middle" font-size="5.6">5.4</text>
<line x1="381.4" y1="84.1" x2="383.7" y2="84.1" stroke="#2a2a2a" stroke-width="0.75"/>
<text x="389.0" y="86.2" text-anchor="middle" font-size="5.6">5.2</text>
<line x1="381.4" y1="93.3" x2="383.7" y2="93.3" stroke="#2a2a2a" stroke-width="0.75"/>
<text x="389.0" y="95.3" text-anchor="middle" font-size="5.6">5</text>
<line x1="381.4" y1="102.5" x2="383.7" y2="102.5" stroke="#2a2a2a" stroke-width="0.75"/>
<text x="389.0" y="104.5" text-anchor="middle" font-size="5.6">4.8</text>
<line x1="381.4" y1="111.7" x2="383.7" y2="111.7" stroke="#2a2a2a" stroke-width="0.75"/>
<text x="389.0" y="113.7" text-anchor="middle" font-size="5.6">4.6</text>
<line x1="381.4" y1="120.9" x2="383.7" y2="120.9" stroke="#2a2a2a" stroke-width="0.75"/>
<text x="389.0" y="122.9" text-anchor="middle" font-size="5.6">4.4</text>
<line x1="418.6" y1="6.0" x2="420.9" y2="6.0" stroke="#2a2a2a" stroke-width="0.75"/>
<text x="425.8" y="8.0" text-anchor="middle" font-size="5.6">16</text>
<line x1="418.6" y1="23.1" x2="420.9" y2="23.1" stroke="#2a2a2a" stroke-width="0.75"/>
<text x="425.8" y="25.1" text-anchor="middle" font-size="5.6">14</text>
<line x1="418.6" y1="40.2" x2="420.9" y2="40.2" stroke="#2a2a2a" stroke-width="0.75"/>
<text x="425.8" y="42.2" text-anchor="middle" font-size="5.6">12</text>
<line x1="418.6" y1="57.3" x2="420.9" y2="57.3" stroke="#2a2a2a" stroke-width="0.75"/>
<text x="425.8" y="59.3" text-anchor="middle" font-size="5.6">10</text>
<line x1="418.6" y1="74.4" x2="420.9" y2="74.4" stroke="#2a2a2a" stroke-width="0.75"/>
<text x="425.8" y="76.4" text-anchor="middle" font-size="5.6">8</text>
<line x1="418.6" y1="91.5" x2="420.9" y2="91.5" stroke="#2a2a2a" stroke-width="0.75"/>
<text x="425.8" y="93.5" text-anchor="middle" font-size="5.6">6</text>
<line x1="418.6" y1="108.6" x2="420.9" y2="108.6" stroke="#2a2a2a" stroke-width="0.75"/>
<text x="425.8" y="110.6" text-anchor="middle" font-size="5.6">4</text>
<line x1="418.6" y1="125.7" x2="420.9" y2="125.7" stroke="#2a2a2a" stroke-width="0.75"/>
<text x="425.8" y="127.7" text-anchor="middle" font-size="5.6">2</text>
<line x1="418.6" y1="142.8" x2="420.9" y2="142.8" stroke="#2a2a2a" stroke-width="0.75"/>
<text x="425.8" y="144.8" text-anchor="middle" font-size="5.6">0</text>
<text x="268.8" y="155.8" text-anchor="middle" font-size="5.4">H2(m<tspan font-size='3.4' dy='-1.6'>3</tspan><tspan dy='1.6'>/h)</tspan></text>
<text x="306.8" y="155.8" text-anchor="middle" font-size="5.4">KE(%)</text>
<text x="344.2" y="155.8" text-anchor="middle" font-size="5.4">DI(%)</text>
<text x="381.7" y="155.8" text-anchor="middle" font-size="5.4">LE(%)</text>
<text x="418.9" y="155.8" text-anchor="middle" font-size="5.4">BO(%)</text>
<text x="260.7" y="194.7" textLength="23.8" lengthAdjust="spacingAndGlyphs" font-family="Liberation Serif, serif" font-weight="bold" font-size="18.3" fill="#111">(b)</text>
<text x="294.6" y="194.7" textLength="125.8" lengthAdjust="spacingAndGlyphs" font-family="Liberation Serif, serif" font-size="18.3" fill="#111">MOEA/D-EGO</text>
<line x1="516.6" y1="-1.0" x2="516.6" y2="147.5" stroke="#3a3a3a" stroke-width="0.72"/>
<line x1="554.2" y1="-1.0" x2="554.2" y2="147.5" stroke="#3a3a3a" stroke-width="0.72"/>
<line x1="591.5" y1="-1.0" x2="591.5" y2="147.5" stroke="#3a3a3a" stroke-width="0.72"/>
<line x1="628.8" y1="-1.0" x2="628.8" y2="147.5" stroke="#3a3a3a" stroke-width="0.72"/>
<line x1="666.2" y1="-1.0" x2="666.2" y2="147.5" stroke="#3a3a3a" stroke-width="0.72"/>
<path d="M516.6 139.3 L554.2 9.2 L591.5 139.2 L628.8 10.0 L666.2 140.3 M516.6 137.5 L554.2 9.8 L591.5 137.7 L628.8 11.0 L666.2 138.6 M516.6 138.7 L554.2 11.8 L591.5 135.0 L628.8 12.8 L666.2 136.7 M516.6 137.5 L554.2 12.3 L591.5 134.1 L628.8 13.9 L666.2 136.3 M516.6 136.1 L554.2 14.7 L591.5 132.2 L628.8 16.3 L666.2 134.4 M516.6 133.6 L554.2 16.1 L591.5 130.0 L628.8 17.6 L666.2 133.5 M516.6 135.4 L554.2 16.6 L591.5 129.3 L628.8 18.2 L666.2 132.2 M516.6 132.3 L554.2 18.7 L591.5 127.6 L628.8 19.6 L666.2 130.6 M516.6 133.4 L554.2 18.5 L591.5 126.9 L628.8 20.0 L666.2 130.3 M516.6 133.3 L554.2 19.9 L591.5 125.7 L628.8 20.9 L666.2 129.1 M516.6 131.9 L554.2 21.0 L591.5 124.8 L628.8 22.5 L666.2 128.2 M516.6 132.7 L554.2 21.4 L591.5 124.4 L628.8 23.0 L666.2 127.8 M516.6 131.7 L554.2 22.7 L591.5 123.7 L628.8 23.4 L666.2 126.9 M516.6 129.7 L554.2 23.9 L591.5 122.0 L628.8 25.0 L666.2 125.8 M516.6 130.4 L554.2 23.9 L591.5 120.5 L628.8 25.4 L666.2 125.9 M516.6 130.2 L554.2 25.8 L591.5 119.1 L628.8 26.7 L666.2 124.0 M516.6 128.3 L554.2 26.5 L591.5 118.3 L628.8 28.0 L666.2 123.1 M516.6 129.4 L554.2 27.6 L591.5 118.0 L628.8 28.6 L666.2 122.8 M516.6 129.5 L554.2 28.4 L591.5 115.8 L628.8 30.1 L666.2 121.3 M516.6 127.4 L554.2 29.4 L591.5 114.9 L628.8 30.6 L666.2 120.7 M516.6 127.4 L554.2 29.6 L591.5 114.7 L628.8 30.9 L666.2 120.3 M516.6 127.2 L554.2 31.0 L591.5 112.8 L628.8 32.0 L666.2 119.1 M516.6 126.2 L554.2 31.8 L591.5 112.0 L628.8 33.4 L666.2 118.6 M516.6 124.5 L554.2 33.3 L591.5 110.8 L628.8 34.3 L666.2 117.2 M516.6 127.2 L554.2 33.6 L591.5 110.0 L628.8 35.0 L666.2 116.6 M516.6 125.7 L554.2 34.9 L591.5 108.5 L628.8 36.2 L666.2 115.8 M516.6 125.7 L554.2 35.3 L591.5 107.2 L628.8 36.9 L666.2 114.7 M516.6 125.2 L554.2 37.0 L591.5 106.4 L628.8 38.4 L666.2 113.5 M516.6 124.4 L554.2 37.7 L591.5 105.4 L628.8 39.8 L666.2 112.6 M516.6 123.0 L554.2 39.1 L591.5 104.4 L628.8 40.3 L666.2 111.7 M516.6 124.0 L554.2 39.2 L591.5 103.2 L628.8 41.2 L666.2 111.7 M516.6 123.4 L554.2 39.7 L591.5 102.9 L628.8 41.9 L666.2 110.9 M516.6 120.7 L554.2 42.1 L591.5 100.4 L628.8 43.5 L666.2 109.8 M516.6 123.4 L554.2 41.6 L591.5 100.6 L628.8 43.5 L666.2 109.4 M516.6 121.3 L554.2 43.2 L591.5 98.8 L628.8 44.4 L666.2 107.8 M516.6 121.9 L554.2 43.8 L591.5 97.4 L628.8 46.0 L666.2 107.3 M516.6 120.8 L554.2 45.1 L591.5 95.9 L628.8 46.8 L666.2 106.4 M516.6 120.5 L554.2 46.8 L591.5 95.0 L628.8 47.8 L666.2 105.2 M516.6 121.1 L554.2 46.6 L591.5 94.9 L628.8 48.5 L666.2 104.1 M516.6 118.6 L554.2 49.7 L591.5 91.4 L628.8 51.8 L666.2 101.9 M516.6 118.3 L554.2 52.3 L591.5 88.4 L628.8 53.7 L666.2 99.7 M516.6 116.7 L554.2 52.7 L591.5 87.6 L628.8 54.1 L666.2 99.0 M516.6 115.6 L554.2 56.7 L591.5 83.3 L628.8 58.2 L666.2 95.7 M516.6 116.2 L554.2 58.6 L591.5 80.9 L628.8 60.4 L666.2 94.1 M516.6 113.8 L554.2 61.2 L591.5 77.9 L628.8 62.5 L666.2 91.8 M516.6 113.5 L554.2 63.5 L591.5 74.6 L628.8 65.8 L666.2 88.9 M516.6 113.1 L554.2 65.8 L591.5 72.6 L628.8 67.7 L666.2 87.6 M516.6 112.3 L554.2 69.2 L591.5 68.6 L628.8 70.8 L666.2 84.2 M516.6 109.0 L554.2 71.3 L591.5 66.2 L628.8 73.0 L666.2 82.0 M516.6 109.1 L554.2 75.0 L591.5 61.7 L628.8 76.5 L666.2 79.1 M516.6 108.7 L554.2 77.8 L591.5 58.6 L628.8 79.7 L666.2 76.1 M516.6 106.1 L554.2 80.0 L591.5 56.1 L628.8 81.6 L666.2 74.3 M516.6 82.8 L554.2 108.3 L591.5 24.8 L628.8 114.2 L666.2 37.2 M516.6 80.7 L554.2 111.6 L591.5 23.1 L628.8 116.1 L666.2 36.8 M516.6 79.7 L554.2 114.4 L591.5 22.1 L628.8 117.9 L666.2 36.4 M516.6 79.0 L554.2 116.8 L591.5 21.7 L628.8 119.1 L666.2 36.6 M516.6 79.2 L554.2 118.7 L591.5 20.7 L628.8 120.9 L666.2 36.1 M516.6 77.3 L554.2 123.3 L591.5 19.3 L628.8 123.2 L666.2 35.0" fill="none" stroke="#0072BD" stroke-width="0.5" stroke-opacity="1" stroke-linejoin="round"/>
<path d="M516.6 8.0 L554.2 140.0 L591.5 6.9 L628.8 139.5 L666.2 8.0 M516.6 62.2 L554.2 122.3 L591.5 60.0 L628.8 123.5 L666.2 34.3 M516.6 68.6 L554.2 108.6 L591.5 60.5 L628.8 100.0 L666.2 27.0" fill="none" stroke="#D95319" stroke-width="0.5" stroke-opacity="1" stroke-linejoin="round"/>
<line x1="516.6" y1="-1.0" x2="516.6" y2="147.5" stroke="#3a3a3a" stroke-width="0.72" stroke-opacity="0.3"/>
<line x1="554.2" y1="-1.0" x2="554.2" y2="147.5" stroke="#3a3a3a" stroke-width="0.72" stroke-opacity="0.3"/>
<line x1="591.5" y1="-1.0" x2="591.5" y2="147.5" stroke="#3a3a3a" stroke-width="0.72" stroke-opacity="0.3"/>
<line x1="628.8" y1="-1.0" x2="628.8" y2="147.5" stroke="#3a3a3a" stroke-width="0.72" stroke-opacity="0.3"/>
<line x1="666.2" y1="-1.0" x2="666.2" y2="147.5" stroke="#3a3a3a" stroke-width="0.72" stroke-opacity="0.3"/>
<line x1="498.4" y1="147.5" x2="686.0" y2="147.5" stroke="#444" stroke-width="0.85"/>
<line x1="514.3" y1="8.4" x2="516.6" y2="8.4" stroke="#2a2a2a" stroke-width="0.75"/>
<text x="503.8" y="10.4" text-anchor="middle" font-size="5.6">78000</text>
<line x1="514.3" y1="23.4" x2="516.6" y2="23.4" stroke="#2a2a2a" stroke-width="0.75"/>
<text x="503.8" y="25.4" text-anchor="middle" font-size="5.6">77000</text>
<line x1="514.3" y1="38.4" x2="516.6" y2="38.4" stroke="#2a2a2a" stroke-width="0.75"/>
<text x="503.8" y="40.4" text-anchor="middle" font-size="5.6">76000</text>
<line x1="514.3" y1="53.4" x2="516.6" y2="53.4" stroke="#2a2a2a" stroke-width="0.75"/>
<text x="503.8" y="55.4" text-anchor="middle" font-size="5.6">75000</text>
<line x1="514.3" y1="68.4" x2="516.6" y2="68.4" stroke="#2a2a2a" stroke-width="0.75"/>
<text x="503.8" y="70.4" text-anchor="middle" font-size="5.6">74000</text>
<line x1="514.3" y1="83.4" x2="516.6" y2="83.4" stroke="#2a2a2a" stroke-width="0.75"/>
<text x="503.8" y="85.4" text-anchor="middle" font-size="5.6">73000</text>
<line x1="514.3" y1="98.4" x2="516.6" y2="98.4" stroke="#2a2a2a" stroke-width="0.75"/>
<text x="503.8" y="100.4" text-anchor="middle" font-size="5.6">72000</text>
<line x1="514.3" y1="113.4" x2="516.6" y2="113.4" stroke="#2a2a2a" stroke-width="0.75"/>
<text x="503.8" y="115.4" text-anchor="middle" font-size="5.6">71000</text>
<line x1="514.3" y1="128.4" x2="516.6" y2="128.4" stroke="#2a2a2a" stroke-width="0.75"/>
<text x="503.8" y="130.4" text-anchor="middle" font-size="5.6">70000</text>
<line x1="514.3" y1="143.4" x2="516.6" y2="143.4" stroke="#2a2a2a" stroke-width="0.75"/>
<text x="503.8" y="145.4" text-anchor="middle" font-size="5.6">69000</text>
<line x1="551.9" y1="4.0" x2="554.2" y2="4.0" stroke="#2a2a2a" stroke-width="0.75"/>
<text x="544.6" y="6.0" text-anchor="middle" font-size="5.6">21.5</text>
<line x1="551.9" y1="30.5" x2="554.2" y2="30.5" stroke="#2a2a2a" stroke-width="0.75"/>
<text x="544.6" y="32.5" text-anchor="middle" font-size="5.6">21</text>
<line x1="551.9" y1="57.0" x2="554.2" y2="57.0" stroke="#2a2a2a" stroke-width="0.75"/>
<text x="544.6" y="59.0" text-anchor="middle" font-size="5.6">20.5</text>
<line x1="551.9" y1="83.5" x2="554.2" y2="83.5" stroke="#2a2a2a" stroke-width="0.75"/>
<text x="544.6" y="85.5" text-anchor="middle" font-size="5.6">20</text>
<line x1="551.9" y1="110.0" x2="554.2" y2="110.0" stroke="#2a2a2a" stroke-width="0.75"/>
<text x="544.6" y="112.0" text-anchor="middle" font-size="5.6">19.5</text>
<line x1="551.9" y1="136.5" x2="554.2" y2="136.5" stroke="#2a2a2a" stroke-width="0.75"/>
<text x="544.6" y="138.5" text-anchor="middle" font-size="5.6">19</text>
<line x1="589.2" y1="1.7" x2="591.5" y2="1.7" stroke="#2a2a2a" stroke-width="0.75"/>
<line x1="589.2" y1="19.1" x2="591.5" y2="19.1" stroke="#2a2a2a" stroke-width="0.75"/>
<text x="581.9" y="21.1" text-anchor="middle" font-size="5.6">44.6</text>
<line x1="589.2" y1="36.5" x2="591.5" y2="36.5" stroke="#2a2a2a" stroke-width="0.75"/>
<text x="581.9" y="38.5" text-anchor="middle" font-size="5.6">44.4</text>
<line x1="589.2" y1="53.9" x2="591.5" y2="53.9" stroke="#2a2a2a" stroke-width="0.75"/>
<text x="581.9" y="55.9" text-anchor="middle" font-size="5.6">44.2</text>
<line x1="589.2" y1="71.3" x2="591.5" y2="71.3" stroke="#2a2a2a" stroke-width="0.75"/>
<text x="581.9" y="73.3" text-anchor="middle" font-size="5.6">44</text>
<line x1="589.2" y1="88.7" x2="591.5" y2="88.7" stroke="#2a2a2a" stroke-width="0.75"/>
<text x="581.9" y="90.7" text-anchor="middle" font-size="5.6">43.8</text>
<line x1="589.2" y1="106.1" x2="591.5" y2="106.1" stroke="#2a2a2a" stroke-width="0.75"/>
<text x="581.9" y="108.1" text-anchor="middle" font-size="5.6">43.6</text>
<line x1="589.2" y1="123.5" x2="591.5" y2="123.5" stroke="#2a2a2a" stroke-width="0.75"/>
<text x="581.9" y="125.5" text-anchor="middle" font-size="5.6">43.4</text>
<line x1="589.2" y1="140.9" x2="591.5" y2="140.9" stroke="#2a2a2a" stroke-width="0.75"/>
<text x="581.9" y="142.9" text-anchor="middle" font-size="5.6">43.2</text>
<line x1="628.8" y1="10.0" x2="631.1" y2="10.0" stroke="#2a2a2a" stroke-width="0.75"/>
<text x="639.1" y="12.0" text-anchor="middle" font-size="5.6">5.85</text>
<line x1="628.8" y1="24.9" x2="631.1" y2="24.9" stroke="#2a2a2a" stroke-width="0.75"/>
<text x="639.1" y="26.9" text-anchor="middle" font-size="5.6">5.8</text>
<line x1="628.8" y1="39.8" x2="631.1" y2="39.8" stroke="#2a2a2a" stroke-width="0.75"/>
<text x="639.1" y="41.8" text-anchor="middle" font-size="5.6">5.75</text>
<line x1="628.8" y1="54.7" x2="631.1" y2="54.7" stroke="#2a2a2a" stroke-width="0.75"/>
<text x="639.1" y="56.7" text-anchor="middle" font-size="5.6">5.7</text>
<line x1="628.8" y1="69.6" x2="631.1" y2="69.6" stroke="#2a2a2a" stroke-width="0.75"/>
<text x="639.1" y="71.6" text-anchor="middle" font-size="5.6">5.65</text>
<line x1="628.8" y1="84.5" x2="631.1" y2="84.5" stroke="#2a2a2a" stroke-width="0.75"/>
<text x="639.1" y="86.5" text-anchor="middle" font-size="5.6">5.6</text>
<line x1="628.8" y1="99.4" x2="631.1" y2="99.4" stroke="#2a2a2a" stroke-width="0.75"/>
<text x="639.1" y="101.4" text-anchor="middle" font-size="5.6">5.55</text>
<line x1="628.8" y1="114.3" x2="631.1" y2="114.3" stroke="#2a2a2a" stroke-width="0.75"/>
<text x="639.1" y="116.3" text-anchor="middle" font-size="5.6">5.5</text>
<line x1="628.8" y1="129.2" x2="631.1" y2="129.2" stroke="#2a2a2a" stroke-width="0.75"/>
<text x="639.1" y="131.2" text-anchor="middle" font-size="5.6">5.45</text>
<line x1="628.8" y1="144.1" x2="631.1" y2="144.1" stroke="#2a2a2a" stroke-width="0.75"/>
<text x="639.1" y="146.1" text-anchor="middle" font-size="5.6">5.4</text>
<line x1="666.2" y1="8.4" x2="668.5" y2="8.4" stroke="#2a2a2a" stroke-width="0.75"/>
<text x="673.9" y="10.4" text-anchor="middle" font-size="5.6">7.5</text>
<line x1="666.2" y1="27.9" x2="668.5" y2="27.9" stroke="#2a2a2a" stroke-width="0.75"/>
<text x="673.9" y="29.9" text-anchor="middle" font-size="5.6">7</text>
<line x1="666.2" y1="47.4" x2="668.5" y2="47.4" stroke="#2a2a2a" stroke-width="0.75"/>
<text x="673.9" y="49.4" text-anchor="middle" font-size="5.6">6.5</text>
<line x1="666.2" y1="66.9" x2="668.5" y2="66.9" stroke="#2a2a2a" stroke-width="0.75"/>
<text x="673.9" y="68.9" text-anchor="middle" font-size="5.6">6</text>
<line x1="666.2" y1="86.4" x2="668.5" y2="86.4" stroke="#2a2a2a" stroke-width="0.75"/>
<text x="673.9" y="88.4" text-anchor="middle" font-size="5.6">5.5</text>
<line x1="666.2" y1="105.9" x2="668.5" y2="105.9" stroke="#2a2a2a" stroke-width="0.75"/>
<text x="673.9" y="107.9" text-anchor="middle" font-size="5.6">5</text>
<line x1="666.2" y1="125.4" x2="668.5" y2="125.4" stroke="#2a2a2a" stroke-width="0.75"/>
<text x="673.9" y="127.4" text-anchor="middle" font-size="5.6">4.5</text>
<line x1="666.2" y1="144.7" x2="668.5" y2="144.7" stroke="#2a2a2a" stroke-width="0.75"/>
<text x="516.9" y="155.8" text-anchor="middle" font-size="5.4">H2(m<tspan font-size='3.4' dy='-1.6'>3</tspan><tspan dy='1.6'>/h)</tspan></text>
<text x="554.5" y="155.8" text-anchor="middle" font-size="5.4">KE(%)</text>
<text x="591.8" y="155.8" text-anchor="middle" font-size="5.4">DI(%)</text>
<text x="629.1" y="155.8" text-anchor="middle" font-size="5.4">LE(%)</text>
<text x="666.5" y="155.8" text-anchor="middle" font-size="5.4">BO(%)</text>
<text x="532.6" y="194.7" textLength="21.8" lengthAdjust="spacingAndGlyphs" font-family="Liberation Serif, serif" font-weight="bold" font-size="18.3" fill="#111">(c)</text>
<text x="564.5" y="194.7" textLength="76.8" lengthAdjust="spacingAndGlyphs" font-family="Liberation Serif, serif" font-size="18.3" fill="#111">r-NSGAII</text>
<line x1="21.5" y1="228.4" x2="21.5" y2="376.0" stroke="#3a3a3a" stroke-width="0.72"/>
<line x1="59.0" y1="228.4" x2="59.0" y2="376.0" stroke="#3a3a3a" stroke-width="0.72"/>
<line x1="96.5" y1="228.4" x2="96.5" y2="376.0" stroke="#3a3a3a" stroke-width="0.72"/>
<line x1="134.0" y1="228.4" x2="134.0" y2="376.0" stroke="#3a3a3a" stroke-width="0.72"/>
<line x1="171.5" y1="228.4" x2="171.5" y2="376.0" stroke="#3a3a3a" stroke-width="0.72"/>
<path d="M21.5 237.5 L59.0 338.5 L96.5 266.5 L134.0 334.1 L171.5 269.4 M21.5 299.7 L59.0 292.7 L96.5 313.2 L134.0 288.8 L171.5 315.8 M21.5 335.4 L59.0 264.2 L96.5 339.0 L134.0 262.1 L171.5 341.1 M21.5 366.0 L59.0 238.8 L96.5 365.7 L134.0 236.8 L171.5 367.0 M21.5 366.0 L59.0 368.6 L96.5 236.8 L134.0 368.3 L171.5 236.8" fill="none" stroke="#0072BD" stroke-width="0.55" stroke-opacity="0.9" stroke-linejoin="round"/>
<line x1="21.5" y1="228.4" x2="21.5" y2="376.0" stroke="#3a3a3a" stroke-width="0.72" stroke-opacity="0.3"/>
<line x1="59.0" y1="228.4" x2="59.0" y2="376.0" stroke="#3a3a3a" stroke-width="0.72" stroke-opacity="0.3"/>
<line x1="96.5" y1="228.4" x2="96.5" y2="376.0" stroke="#3a3a3a" stroke-width="0.72" stroke-opacity="0.3"/>
<line x1="134.0" y1="228.4" x2="134.0" y2="376.0" stroke="#3a3a3a" stroke-width="0.72" stroke-opacity="0.3"/>
<line x1="171.5" y1="228.4" x2="171.5" y2="376.0" stroke="#3a3a3a" stroke-width="0.72" stroke-opacity="0.3"/>
<line x1="3.0" y1="376.0" x2="190.4" y2="376.0" stroke="#444" stroke-width="0.85"/>
<line x1="19.2" y1="237.8" x2="21.5" y2="237.8" stroke="#2a2a2a" stroke-width="0.75"/>
<text x="9.1" y="239.8" text-anchor="middle" font-size="5.6">69380</text>
<line x1="19.2" y1="252.4" x2="21.5" y2="252.4" stroke="#2a2a2a" stroke-width="0.75"/>
<text x="9.1" y="254.4" text-anchor="middle" font-size="5.6">69360</text>
<line x1="19.2" y1="267.1" x2="21.5" y2="267.1" stroke="#2a2a2a" stroke-width="0.75"/>
<text x="9.1" y="269.1" text-anchor="middle" font-size="5.6">69340</text>
<line x1="19.2" y1="281.7" x2="21.5" y2="281.7" stroke="#2a2a2a" stroke-width="0.75"/>
<text x="9.1" y="283.7" text-anchor="middle" font-size="5.6">69320</text>
<line x1="19.2" y1="296.3" x2="21.5" y2="296.3" stroke="#2a2a2a" stroke-width="0.75"/>
<text x="9.1" y="298.3" text-anchor="middle" font-size="5.6">69300</text>
<line x1="19.2" y1="311.0" x2="21.5" y2="311.0" stroke="#2a2a2a" stroke-width="0.75"/>
<text x="9.1" y="313.0" text-anchor="middle" font-size="5.6">69280</text>
<line x1="19.2" y1="325.6" x2="21.5" y2="325.6" stroke="#2a2a2a" stroke-width="0.75"/>
<text x="9.1" y="327.6" text-anchor="middle" font-size="5.6">69260</text>
<line x1="19.2" y1="340.2" x2="21.5" y2="340.2" stroke="#2a2a2a" stroke-width="0.75"/>
<text x="9.1" y="342.2" text-anchor="middle" font-size="5.6">69240</text>
<line x1="19.2" y1="354.8" x2="21.5" y2="354.8" stroke="#2a2a2a" stroke-width="0.75"/>
<text x="9.1" y="356.9" text-anchor="middle" font-size="5.6">69220</text>
<line x1="19.2" y1="369.5" x2="21.5" y2="369.5" stroke="#2a2a2a" stroke-width="0.75"/>
<text x="9.1" y="371.5" text-anchor="middle" font-size="5.6">69200</text>
<line x1="56.7" y1="242.6" x2="59.0" y2="242.6" stroke="#2a2a2a" stroke-width="0.75"/>
<text x="47.5" y="244.6" text-anchor="middle" font-size="5.6">21.3</text>
<line x1="56.7" y1="257.8" x2="59.0" y2="257.8" stroke="#2a2a2a" stroke-width="0.75"/>
<text x="47.5" y="259.8" text-anchor="middle" font-size="5.6">21.25</text>
<line x1="56.7" y1="273.0" x2="59.0" y2="273.0" stroke="#2a2a2a" stroke-width="0.75"/>
<text x="47.5" y="275.0" text-anchor="middle" font-size="5.6">21.2</text>
<line x1="56.7" y1="288.2" x2="59.0" y2="288.2" stroke="#2a2a2a" stroke-width="0.75"/>
<text x="47.5" y="290.2" text-anchor="middle" font-size="5.6">21.15</text>
<line x1="56.7" y1="303.4" x2="59.0" y2="303.4" stroke="#2a2a2a" stroke-width="0.75"/>
<text x="47.5" y="305.4" text-anchor="middle" font-size="5.6">21.1</text>
<line x1="56.7" y1="318.6" x2="59.0" y2="318.6" stroke="#2a2a2a" stroke-width="0.75"/>
<text x="47.5" y="320.6" text-anchor="middle" font-size="5.6">21.05</text>
<line x1="56.7" y1="333.8" x2="59.0" y2="333.8" stroke="#2a2a2a" stroke-width="0.75"/>
<text x="47.5" y="335.8" text-anchor="middle" font-size="5.6">21</text>
<line x1="56.7" y1="349.0" x2="59.0" y2="349.0" stroke="#2a2a2a" stroke-width="0.75"/>
<text x="47.5" y="351.0" text-anchor="middle" font-size="5.6">20.95</text>
<line x1="56.7" y1="364.2" x2="59.0" y2="364.2" stroke="#2a2a2a" stroke-width="0.75"/>
<text x="47.5" y="366.2" text-anchor="middle" font-size="5.6">20.9</text>
<line x1="94.2" y1="237.8" x2="96.5" y2="237.8" stroke="#2a2a2a" stroke-width="0.75"/>
<text x="84.9" y="239.8" text-anchor="middle" font-size="5.6">43.75</text>
<line x1="94.2" y1="252.4" x2="96.5" y2="252.4" stroke="#2a2a2a" stroke-width="0.75"/>
<text x="84.9" y="254.4" text-anchor="middle" font-size="5.6">43.7</text>
<line x1="94.2" y1="267.1" x2="96.5" y2="267.1" stroke="#2a2a2a" stroke-width="0.75"/>
<text x="84.9" y="269.1" text-anchor="middle" font-size="5.6">43.65</text>
<line x1="94.2" y1="281.7" x2="96.5" y2="281.7" stroke="#2a2a2a" stroke-width="0.75"/>
<text x="84.9" y="283.7" text-anchor="middle" font-size="5.6">43.6</text>
<line x1="94.2" y1="296.3" x2="96.5" y2="296.3" stroke="#2a2a2a" stroke-width="0.75"/>
<text x="84.9" y="298.3" text-anchor="middle" font-size="5.6">43.55</text>
<line x1="94.2" y1="311.0" x2="96.5" y2="311.0" stroke="#2a2a2a" stroke-width="0.75"/>
<text x="84.9" y="313.0" text-anchor="middle" font-size="5.6">43.5</text>
<line x1="94.2" y1="325.6" x2="96.5" y2="325.6" stroke="#2a2a2a" stroke-width="0.75"/>
<text x="84.9" y="327.6" text-anchor="middle" font-size="5.6">43.45</text>
<line x1="94.2" y1="340.2" x2="96.5" y2="340.2" stroke="#2a2a2a" stroke-width="0.75"/>
<text x="84.9" y="342.2" text-anchor="middle" font-size="5.6">43.4</text>
<line x1="94.2" y1="354.8" x2="96.5" y2="354.8" stroke="#2a2a2a" stroke-width="0.75"/>
<text x="84.9" y="356.9" text-anchor="middle" font-size="5.6">43.35</text>
<line x1="94.2" y1="369.5" x2="96.5" y2="369.5" stroke="#2a2a2a" stroke-width="0.75"/>
<text x="84.9" y="371.5" text-anchor="middle" font-size="5.6">43.3</text>
<line x1="134.0" y1="236.2" x2="136.3" y2="236.2" stroke="#2a2a2a" stroke-width="0.75"/>
<text x="144.0" y="238.2" text-anchor="middle" font-size="5.6">5.84</text>
<line x1="134.0" y1="248.5" x2="136.3" y2="248.5" stroke="#2a2a2a" stroke-width="0.75"/>
<text x="144.0" y="250.5" text-anchor="middle" font-size="5.6">5.83</text>
<line x1="134.0" y1="260.8" x2="136.3" y2="260.8" stroke="#2a2a2a" stroke-width="0.75"/>
<text x="144.0" y="262.8" text-anchor="middle" font-size="5.6">5.82</text>
<line x1="134.0" y1="273.1" x2="136.3" y2="273.1" stroke="#2a2a2a" stroke-width="0.75"/>
<text x="144.0" y="275.1" text-anchor="middle" font-size="5.6">5.81</text>
<line x1="134.0" y1="285.4" x2="136.3" y2="285.4" stroke="#2a2a2a" stroke-width="0.75"/>
<text x="144.0" y="287.5" text-anchor="middle" font-size="5.6">5.8</text>
<line x1="134.0" y1="297.8" x2="136.3" y2="297.8" stroke="#2a2a2a" stroke-width="0.75"/>
<text x="144.0" y="299.8" text-anchor="middle" font-size="5.6">5.79</text>
<line x1="134.0" y1="310.1" x2="136.3" y2="310.1" stroke="#2a2a2a" stroke-width="0.75"/>
<text x="144.0" y="312.1" text-anchor="middle" font-size="5.6">5.78</text>
<line x1="134.0" y1="322.4" x2="136.3" y2="322.4" stroke="#2a2a2a" stroke-width="0.75"/>
<text x="144.0" y="324.4" text-anchor="middle" font-size="5.6">5.77</text>
<line x1="134.0" y1="334.7" x2="136.3" y2="334.7" stroke="#2a2a2a" stroke-width="0.75"/>
<text x="144.0" y="336.7" text-anchor="middle" font-size="5.6">5.76</text>
<line x1="134.0" y1="347.0" x2="136.3" y2="347.0" stroke="#2a2a2a" stroke-width="0.75"/>
<text x="144.0" y="349.0" text-anchor="middle" font-size="5.6">5.75</text>
<line x1="134.0" y1="359.3" x2="136.3" y2="359.3" stroke="#2a2a2a" stroke-width="0.75"/>
<text x="144.0" y="361.3" text-anchor="middle" font-size="5.6">5.74</text>
<line x1="134.0" y1="371.6" x2="136.3" y2="371.6" stroke="#2a2a2a" stroke-width="0.75"/>
<text x="144.0" y="373.6" text-anchor="middle" font-size="5.6">5.73</text>
<line x1="171.5" y1="242.8" x2="173.8" y2="242.8" stroke="#2a2a2a" stroke-width="0.75"/>
<text x="180.7" y="244.8" text-anchor="middle" font-size="5.6">4.8</text>
<line x1="171.5" y1="252.7" x2="173.8" y2="252.7" stroke="#2a2a2a" stroke-width="0.75"/>
<text x="180.7" y="254.7" text-anchor="middle" font-size="5.6">4.75</text>
<line x1="171.5" y1="262.6" x2="173.8" y2="262.6" stroke="#2a2a2a" stroke-width="0.75"/>
<text x="180.7" y="264.6" text-anchor="middle" font-size="5.6">4.7</text>
<line x1="171.5" y1="272.5" x2="173.8" y2="272.5" stroke="#2a2a2a" stroke-width="0.75"/>
<text x="180.7" y="274.5" text-anchor="middle" font-size="5.6">4.65</text>
<line x1="171.5" y1="282.4" x2="173.8" y2="282.4" stroke="#2a2a2a" stroke-width="0.75"/>
<text x="180.7" y="284.4" text-anchor="middle" font-size="5.6">4.6</text>
<line x1="171.5" y1="292.3" x2="173.8" y2="292.3" stroke="#2a2a2a" stroke-width="0.75"/>
<text x="180.7" y="294.3" text-anchor="middle" font-size="5.6">4.55</text>
<line x1="171.5" y1="302.2" x2="173.8" y2="302.2" stroke="#2a2a2a" stroke-width="0.75"/>
<text x="180.7" y="304.2" text-anchor="middle" font-size="5.6">4.5</text>
<line x1="171.5" y1="312.1" x2="173.8" y2="312.1" stroke="#2a2a2a" stroke-width="0.75"/>
<text x="180.7" y="314.1" text-anchor="middle" font-size="5.6">4.45</text>
<line x1="171.5" y1="322.0" x2="173.8" y2="322.0" stroke="#2a2a2a" stroke-width="0.75"/>
<text x="180.7" y="324.0" text-anchor="middle" font-size="5.6">4.4</text>
<line x1="171.5" y1="331.9" x2="173.8" y2="331.9" stroke="#2a2a2a" stroke-width="0.75"/>
<text x="180.7" y="333.9" text-anchor="middle" font-size="5.6">4.35</text>
<line x1="171.5" y1="341.8" x2="173.8" y2="341.8" stroke="#2a2a2a" stroke-width="0.75"/>
<text x="180.7" y="343.8" text-anchor="middle" font-size="5.6">4.3</text>
<line x1="171.5" y1="351.7" x2="173.8" y2="351.7" stroke="#2a2a2a" stroke-width="0.75"/>
<text x="180.7" y="353.7" text-anchor="middle" font-size="5.6">4.25</text>
<line x1="171.5" y1="361.6" x2="173.8" y2="361.6" stroke="#2a2a2a" stroke-width="0.75"/>
<text x="180.7" y="363.6" text-anchor="middle" font-size="5.6">4.2</text>
<text x="21.8" y="384.3" text-anchor="middle" font-size="5.4">H2(m<tspan font-size='3.4' dy='-1.6'>3</tspan><tspan dy='1.6'>/h)</tspan></text>
<text x="59.3" y="384.3" text-anchor="middle" font-size="5.4">KE(%)</text>
<text x="96.8" y="384.3" text-anchor="middle" font-size="5.4">DI(%)</text>
<text x="134.3" y="384.3" text-anchor="middle" font-size="5.4">LE(%)</text>
<text x="171.8" y="384.3" text-anchor="middle" font-size="5.4">BO(%)</text>
<text x="12.7" y="423.7" textLength="24.5" lengthAdjust="spacingAndGlyphs" font-family="Liberation Serif, serif" font-weight="bold" font-size="18.3" fill="#111">(d)</text>
<text x="48.7" y="423.7" textLength="123.1" lengthAdjust="spacingAndGlyphs" font-family="Liberation Serif, serif" font-size="18.3" fill="#111">MOEA/D-PRE</text>
<line x1="268.5" y1="228.4" x2="268.5" y2="376.0" stroke="#3a3a3a" stroke-width="0.72"/>
<line x1="306.5" y1="228.4" x2="306.5" y2="376.0" stroke="#3a3a3a" stroke-width="0.72"/>
<line x1="343.9" y1="228.4" x2="343.9" y2="376.0" stroke="#3a3a3a" stroke-width="0.72"/>
<line x1="381.4" y1="228.4" x2="381.4" y2="376.0" stroke="#3a3a3a" stroke-width="0.72"/>
<line x1="418.6" y1="228.4" x2="418.6" y2="376.0" stroke="#3a3a3a" stroke-width="0.72"/>
<path d="M268.5 237.5 L306.5 365.2 L343.9 237.5 L381.4 367.0 L418.6 233.7 M268.5 365.7 L306.5 238.1 L343.9 367.0 L381.4 238.1 L418.6 366.3 M268.5 352.8 L306.5 251.0 L343.9 355.4 L381.4 274.6 L418.6 310.0 M268.5 330.3 L306.5 273.8 L343.9 352.8 L381.4 284.2 L418.6 329.5 M268.5 332.9 L306.5 301.8 L343.9 285.5 L381.4 254.4 L418.6 317.8" fill="none" stroke="#0072BD" stroke-width="0.55" stroke-opacity="0.9" stroke-linejoin="round"/>
<line x1="268.5" y1="228.4" x2="268.5" y2="376.0" stroke="#3a3a3a" stroke-width="0.72" stroke-opacity="0.3"/>
<line x1="306.5" y1="228.4" x2="306.5" y2="376.0" stroke="#3a3a3a" stroke-width="0.72" stroke-opacity="0.3"/>
<line x1="343.9" y1="228.4" x2="343.9" y2="376.0" stroke="#3a3a3a" stroke-width="0.72" stroke-opacity="0.3"/>
<line x1="381.4" y1="228.4" x2="381.4" y2="376.0" stroke="#3a3a3a" stroke-width="0.72" stroke-opacity="0.3"/>
<line x1="418.6" y1="228.4" x2="418.6" y2="376.0" stroke="#3a3a3a" stroke-width="0.72" stroke-opacity="0.3"/>
<line x1="251.1" y1="376.0" x2="437.3" y2="376.0" stroke="#444" stroke-width="0.85"/>
<line x1="266.2" y1="247.1" x2="268.5" y2="247.1" stroke="#2a2a2a" stroke-width="0.75"/>
<text x="255.7" y="249.1" text-anchor="middle" font-size="5.6">67109</text>
<line x1="266.2" y1="266.8" x2="268.5" y2="266.8" stroke="#2a2a2a" stroke-width="0.75"/>
<text x="255.7" y="268.8" text-anchor="middle" font-size="5.6">67108</text>
<line x1="266.2" y1="286.5" x2="268.5" y2="286.5" stroke="#2a2a2a" stroke-width="0.75"/>
<text x="255.7" y="288.5" text-anchor="middle" font-size="5.6">67107</text>
<line x1="266.2" y1="306.1" x2="268.5" y2="306.1" stroke="#2a2a2a" stroke-width="0.75"/>
<text x="255.7" y="308.2" text-anchor="middle" font-size="5.6">67106</text>
<line x1="266.2" y1="325.8" x2="268.5" y2="325.8" stroke="#2a2a2a" stroke-width="0.75"/>
<text x="255.7" y="327.8" text-anchor="middle" font-size="5.6">67105</text>
<line x1="266.2" y1="345.5" x2="268.5" y2="345.5" stroke="#2a2a2a" stroke-width="0.75"/>
<text x="255.7" y="347.5" text-anchor="middle" font-size="5.6">67104</text>
<line x1="266.2" y1="365.2" x2="268.5" y2="365.2" stroke="#2a2a2a" stroke-width="0.75"/>
<text x="255.7" y="367.2" text-anchor="middle" font-size="5.6">67103</text>
<line x1="304.2" y1="248.4" x2="306.5" y2="248.4" stroke="#2a2a2a" stroke-width="0.75"/>
<text x="295.3" y="250.4" text-anchor="middle" font-size="5.6">23.95</text>
<line x1="304.2" y1="269.9" x2="306.5" y2="269.9" stroke="#2a2a2a" stroke-width="0.75"/>
<text x="295.3" y="271.9" text-anchor="middle" font-size="5.6">23.94</text>
<line x1="304.2" y1="291.3" x2="306.5" y2="291.3" stroke="#2a2a2a" stroke-width="0.75"/>
<text x="295.3" y="293.3" text-anchor="middle" font-size="5.6">23.93</text>
<line x1="304.2" y1="312.8" x2="306.5" y2="312.8" stroke="#2a2a2a" stroke-width="0.75"/>
<text x="295.3" y="314.8" text-anchor="middle" font-size="5.6">23.92</text>
<line x1="304.2" y1="334.2" x2="306.5" y2="334.2" stroke="#2a2a2a" stroke-width="0.75"/>
<text x="295.3" y="336.2" text-anchor="middle" font-size="5.6">23.91</text>
<line x1="304.2" y1="355.6" x2="306.5" y2="355.6" stroke="#2a2a2a" stroke-width="0.75"/>
<text x="295.3" y="357.7" text-anchor="middle" font-size="5.6">23.9</text>
<line x1="341.6" y1="241.9" x2="343.9" y2="241.9" stroke="#2a2a2a" stroke-width="0.75"/>
<text x="332.2" y="243.9" text-anchor="middle" font-size="5.6">40.56</text>
<line x1="341.6" y1="264.1" x2="343.9" y2="264.1" stroke="#2a2a2a" stroke-width="0.75"/>
<text x="332.2" y="266.1" text-anchor="middle" font-size="5.6">40.55</text>
<line x1="341.6" y1="286.3" x2="343.9" y2="286.3" stroke="#2a2a2a" stroke-width="0.75"/>
<text x="332.2" y="288.3" text-anchor="middle" font-size="5.6">40.54</text>
<line x1="341.6" y1="308.5" x2="343.9" y2="308.5" stroke="#2a2a2a" stroke-width="0.75"/>
<text x="332.2" y="310.5" text-anchor="middle" font-size="5.6">40.53</text>
<line x1="341.6" y1="330.7" x2="343.9" y2="330.7" stroke="#2a2a2a" stroke-width="0.75"/>
<text x="332.2" y="332.7" text-anchor="middle" font-size="5.6">40.52</text>
<line x1="341.6" y1="352.9" x2="343.9" y2="352.9" stroke="#2a2a2a" stroke-width="0.75"/>
<text x="332.2" y="354.9" text-anchor="middle" font-size="5.6">40.51</text>
<line x1="381.4" y1="240.6" x2="383.7" y2="240.6" stroke="#2a2a2a" stroke-width="0.75"/>
<text x="392.9" y="242.6" text-anchor="middle" font-size="5.6">6.424</text>
<line x1="381.4" y1="260.9" x2="383.7" y2="260.9" stroke="#2a2a2a" stroke-width="0.75"/>
<text x="392.9" y="262.9" text-anchor="middle" font-size="5.6">6.422</text>
<line x1="381.4" y1="281.1" x2="383.7" y2="281.1" stroke="#2a2a2a" stroke-width="0.75"/>
<text x="392.9" y="283.1" text-anchor="middle" font-size="5.6">6.42</text>
<line x1="381.4" y1="301.4" x2="383.7" y2="301.4" stroke="#2a2a2a" stroke-width="0.75"/>
<text x="392.9" y="303.4" text-anchor="middle" font-size="5.6">6.418</text>
<line x1="381.4" y1="321.6" x2="383.7" y2="321.6" stroke="#2a2a2a" stroke-width="0.75"/>
<text x="392.9" y="323.6" text-anchor="middle" font-size="5.6">6.416</text>
<line x1="381.4" y1="341.9" x2="383.7" y2="341.9" stroke="#2a2a2a" stroke-width="0.75"/>
<text x="392.9" y="343.9" text-anchor="middle" font-size="5.6">6.414</text>
<line x1="381.4" y1="362.1" x2="383.7" y2="362.1" stroke="#2a2a2a" stroke-width="0.75"/>
<text x="392.9" y="364.1" text-anchor="middle" font-size="5.6">6.412</text>
<line x1="418.6" y1="234.4" x2="420.9" y2="234.4" stroke="#2a2a2a" stroke-width="0.75"/>
<text x="428.0" y="236.4" text-anchor="middle" font-size="5.6">1.64</text>
<line x1="418.6" y1="253.2" x2="420.9" y2="253.2" stroke="#2a2a2a" stroke-width="0.75"/>
<text x="428.0" y="255.2" text-anchor="middle" font-size="5.6">1.63</text>
<line x1="418.6" y1="272.0" x2="420.9" y2="272.0" stroke="#2a2a2a" stroke-width="0.75"/>
<text x="428.0" y="274.0" text-anchor="middle" font-size="5.6">1.62</text>
<line x1="418.6" y1="290.8" x2="420.9" y2="290.8" stroke="#2a2a2a" stroke-width="0.75"/>
<text x="428.0" y="292.8" text-anchor="middle" font-size="5.6">1.61</text>
<line x1="418.6" y1="309.6" x2="420.9" y2="309.6" stroke="#2a2a2a" stroke-width="0.75"/>
<text x="428.0" y="311.6" text-anchor="middle" font-size="5.6">1.6</text>
<line x1="418.6" y1="328.4" x2="420.9" y2="328.4" stroke="#2a2a2a" stroke-width="0.75"/>
<text x="428.0" y="330.4" text-anchor="middle" font-size="5.6">1.59</text>
<line x1="418.6" y1="347.2" x2="420.9" y2="347.2" stroke="#2a2a2a" stroke-width="0.75"/>
<text x="428.0" y="349.2" text-anchor="middle" font-size="5.6">1.58</text>
<line x1="418.6" y1="366.0" x2="420.9" y2="366.0" stroke="#2a2a2a" stroke-width="0.75"/>
<text x="428.0" y="368.0" text-anchor="middle" font-size="5.6">1.57</text>
<text x="268.8" y="384.3" text-anchor="middle" font-size="5.4">H2(m<tspan font-size='3.4' dy='-1.6'>3</tspan><tspan dy='1.6'>/h)</tspan></text>
<text x="306.8" y="384.3" text-anchor="middle" font-size="5.4">KE(%)</text>
<text x="344.2" y="384.3" text-anchor="middle" font-size="5.4">DI(%)</text>
<text x="381.7" y="384.3" text-anchor="middle" font-size="5.4">LE(%)</text>
<text x="418.9" y="384.3" text-anchor="middle" font-size="5.4">BO(%)</text>
<text x="284.9" y="423.7" textLength="23.2" lengthAdjust="spacingAndGlyphs" font-family="Liberation Serif, serif" font-weight="bold" font-size="18.3" fill="#111">(e)</text>
<text x="317.6" y="423.7" textLength="77.8" lengthAdjust="spacingAndGlyphs" font-family="Liberation Serif, serif" font-size="18.3" fill="#111">MCEA/D</text>
<line x1="516.5" y1="228.4" x2="516.5" y2="376.0" stroke="#3a3a3a" stroke-width="0.72"/>
<line x1="554.1" y1="228.4" x2="554.1" y2="376.0" stroke="#3a3a3a" stroke-width="0.72"/>
<line x1="591.4" y1="228.4" x2="591.4" y2="376.0" stroke="#3a3a3a" stroke-width="0.72"/>
<line x1="628.6" y1="228.4" x2="628.6" y2="376.0" stroke="#3a3a3a" stroke-width="0.72"/>
<line x1="666.4" y1="228.4" x2="666.4" y2="376.0" stroke="#3a3a3a" stroke-width="0.72"/>
<path d="M516.5 367.5 L554.1 287.7 L591.4 276.8 L628.6 298.7 L666.4 326.2 M516.5 366.6 L554.1 289.0 L591.4 276.3 L628.6 299.3 L666.4 325.2 M516.5 366.3 L554.1 290.5 L591.4 276.0 L628.6 300.8 L666.4 324.0 M516.5 365.7 L554.1 290.7 L591.4 275.3 L628.6 301.8 L666.4 324.8 M516.5 366.2 L554.1 293.1 L591.4 274.6 L628.6 302.9 L666.4 322.4 M516.5 364.8 L554.1 293.7 L591.4 273.6 L628.6 303.4 L666.4 322.4 M516.5 364.8 L554.1 294.7 L591.4 272.4 L628.6 305.2 L666.4 320.4 M516.5 362.5 L554.1 297.3 L591.4 272.0 L628.6 305.1 L666.4 319.3 M516.5 363.6 L554.1 297.7 L591.4 271.0 L628.6 306.4 L666.4 319.8 M516.5 362.9 L554.1 298.1 L591.4 269.5 L628.6 307.7 L666.4 319.2 M516.5 362.5 L554.1 299.6 L591.4 269.3 L628.6 307.8 L666.4 317.2 M516.5 361.8 L554.1 300.5 L591.4 269.0 L628.6 308.9 L666.4 316.8 M516.5 360.6 L554.1 302.8 L591.4 267.2 L628.6 311.1 L666.4 315.1 M516.5 359.4 L554.1 302.8 L591.4 267.4 L628.6 311.1 L666.4 315.2 M516.5 358.5 L554.1 305.6 L591.4 265.7 L628.6 312.5 L666.4 313.4 M516.5 359.4 L554.1 305.8 L591.4 265.1 L628.6 312.9 L666.4 312.9 M516.5 358.8 L554.1 307.0 L591.4 265.6 L628.6 313.7 L666.4 312.2 M516.5 357.8 L554.1 308.6 L591.4 263.3 L628.6 315.3 L666.4 311.8 M516.5 356.9 L554.1 309.0 L591.4 264.2 L628.6 316.3 L666.4 310.8 M516.5 355.5 L554.1 311.4 L591.4 262.9 L628.6 316.8 L666.4 310.1 M516.5 355.7 L554.1 311.4 L591.4 262.2 L628.6 317.9 L666.4 309.1 M516.5 355.4 L554.1 313.3 L591.4 260.6 L628.6 319.2 L666.4 306.9 M516.5 355.4 L554.1 313.9 L591.4 259.9 L628.6 320.2 L666.4 307.9 M516.5 354.5 L554.1 316.1 L591.4 259.8 L628.6 320.7 L666.4 306.2 M516.5 354.5 L554.1 316.1 L591.4 258.5 L628.6 321.6 L666.4 306.2 M516.5 353.1 L554.1 319.2 L591.4 257.7 L628.6 322.8 L666.4 303.7 M516.5 351.9 L554.1 319.6 L591.4 256.9 L628.6 322.9 L666.4 303.7 M516.5 350.9 L554.1 319.9 L591.4 256.3 L628.6 323.7 L666.4 303.1 M516.5 350.9 L554.1 322.2 L591.4 255.9 L628.6 325.8 L666.4 302.3 M516.5 349.2 L554.1 323.4 L591.4 253.9 L628.6 326.9 L666.4 300.8 M516.5 350.4 L554.1 324.7 L591.4 253.4 L628.6 327.6 L666.4 299.9 M516.5 348.5 L554.1 326.5 L591.4 253.7 L628.6 328.9 L666.4 298.9 M516.5 349.0 L554.1 327.2 L591.4 251.9 L628.6 330.5 L666.4 298.6 M516.5 346.9 L554.1 328.6 L591.4 251.6 L628.6 329.9 L666.4 296.8 M516.5 346.9 L554.1 329.2 L591.4 250.9 L628.6 330.4 L666.4 296.4 M516.5 327.4 L554.1 265.2 L591.4 333.5 L628.6 254.6 L666.4 335.8 M516.5 324.6 L554.1 263.2 L591.4 337.1 L628.6 253.7 L666.4 337.6 M516.5 322.8 L554.1 259.1 L591.4 341.3 L628.6 250.1 L666.4 343.1 M516.5 319.2 L554.1 255.6 L591.4 344.7 L628.6 249.3 L666.4 345.7 M516.5 316.8 L554.1 253.6 L591.4 347.6 L628.6 247.3 L666.4 348.5 M516.5 320.1 L554.1 252.2 L591.4 349.1 L628.6 245.8 L666.4 349.7 M516.5 315.5 L554.1 250.6 L591.4 351.5 L628.6 245.3 L666.4 351.1 M516.5 315.9 L554.1 249.5 L591.4 352.8 L628.6 245.4 L666.4 352.5 M516.5 314.3 L554.1 247.3 L591.4 355.0 L628.6 243.3 L666.4 355.1 M516.5 314.7 L554.1 245.6 L591.4 357.4 L628.6 242.5 L666.4 356.7 M516.5 312.7 L554.1 245.6 L591.4 358.0 L628.6 241.8 L666.4 357.6 M516.5 313.0 L554.1 243.5 L591.4 359.7 L628.6 240.4 L666.4 359.2 M516.5 311.8 L554.1 242.3 L591.4 362.4 L628.6 240.4 L666.4 361.6 M516.5 310.9 L554.1 241.3 L591.4 363.4 L628.6 239.6 L666.4 361.9 M516.5 309.9 L554.1 239.3 L591.4 364.3 L628.6 238.9 L666.4 363.3 M516.5 306.8 L554.1 237.3 L591.4 367.6 L628.6 237.1 L666.4 366.9 M516.5 308.2 L554.1 236.8 L591.4 367.7 L628.6 236.6 L666.4 366.8 M516.5 322.0 L554.1 272.0 L591.4 306.8 L628.6 272.6 L666.4 330.0" fill="none" stroke="#0072BD" stroke-width="0.5" stroke-opacity="1" stroke-linejoin="round"/>
<path d="M516.5 287.7 L554.1 335.1 L591.4 254.9 L628.6 327.2 L666.4 285.7 M516.5 286.9 L554.1 338.6 L591.4 253.7 L628.6 331.4 L666.4 281.5 M516.5 282.3 L554.1 340.0 L591.4 253.3 L628.6 332.9 L666.4 280.2 M516.5 272.2 L554.1 342.8 L591.4 251.6 L628.6 337.0 L666.4 275.0 M516.5 277.7 L554.1 347.0 L591.4 248.6 L628.6 342.6 L666.4 267.7 M516.5 336.0 L554.1 349.9 L591.4 246.5 L628.6 345.0 L666.4 263.9 M516.5 266.9 L554.1 352.4 L591.4 246.0 L628.6 347.4 L666.4 261.5 M516.5 260.5 L554.1 352.2 L591.4 245.1 L628.6 348.9 L666.4 260.5 M516.5 275.3 L554.1 354.1 L591.4 244.4 L628.6 349.7 L666.4 259.7 M516.5 255.1 L554.1 355.4 L591.4 242.9 L628.6 352.7 L666.4 254.9 M516.5 275.8 L554.1 356.9 L591.4 243.3 L628.6 353.5 L666.4 254.4 M516.5 253.7 L554.1 360.0 L591.4 242.0 L628.6 356.0 L666.4 249.7 M516.5 254.1 L554.1 360.3 L591.4 240.5 L628.6 358.4 L666.4 248.5 M516.5 338.1 L554.1 362.6 L591.4 239.1 L628.6 360.4 L666.4 245.3 M516.5 244.7 L554.1 363.5 L591.4 238.6 L628.6 362.1 L666.4 242.7 M516.5 265.4 L554.1 365.3 L591.4 237.9 L628.6 364.2 L666.4 241.1 M516.5 244.4 L554.1 367.4 L591.4 236.8 L628.6 365.9 L666.4 239.0 M516.5 249.3 L554.1 368.4 L591.4 236.1 L628.6 367.2 L666.4 236.8 M516.5 347.0 L554.1 281.6 L591.4 289.7 L628.6 284.8 L666.4 336.0 M516.5 236.0 L554.1 366.0 L591.4 238.0 L628.6 365.0 L666.4 240.0" fill="none" stroke="#D95319" stroke-width="0.5" stroke-opacity="1" stroke-linejoin="round"/>
<line x1="516.5" y1="228.4" x2="516.5" y2="376.0" stroke="#3a3a3a" stroke-width="0.72" stroke-opacity="0.3"/>
<line x1="554.1" y1="228.4" x2="554.1" y2="376.0" stroke="#3a3a3a" stroke-width="0.72" stroke-opacity="0.3"/>
<line x1="591.4" y1="228.4" x2="591.4" y2="376.0" stroke="#3a3a3a" stroke-width="0.72" stroke-opacity="0.3"/>
<line x1="628.6" y1="228.4" x2="628.6" y2="376.0" stroke="#3a3a3a" stroke-width="0.72" stroke-opacity="0.3"/>
<line x1="666.4" y1="228.4" x2="666.4" y2="376.0" stroke="#3a3a3a" stroke-width="0.72" stroke-opacity="0.3"/>
<line x1="498.4" y1="376.0" x2="686.0" y2="376.0" stroke="#444" stroke-width="0.85"/>
<line x1="514.2" y1="235.5" x2="516.5" y2="235.5" stroke="#2a2a2a" stroke-width="0.75"/>
<text x="502.9" y="237.5" text-anchor="middle" font-size="5.6">100000</text>
<line x1="514.2" y1="257.3" x2="516.5" y2="257.3" stroke="#2a2a2a" stroke-width="0.75"/>
<text x="502.9" y="259.3" text-anchor="middle" font-size="5.6">95000</text>
<line x1="514.2" y1="279.1" x2="516.5" y2="279.1" stroke="#2a2a2a" stroke-width="0.75"/>
<text x="502.9" y="281.1" text-anchor="middle" font-size="5.6">90000</text>
<line x1="514.2" y1="300.9" x2="516.5" y2="300.9" stroke="#2a2a2a" stroke-width="0.75"/>
<text x="502.9" y="302.9" text-anchor="middle" font-size="5.6">85000</text>
<line x1="514.2" y1="322.7" x2="516.5" y2="322.7" stroke="#2a2a2a" stroke-width="0.75"/>
<text x="502.9" y="324.7" text-anchor="middle" font-size="5.6">80000</text>
<line x1="514.2" y1="344.5" x2="516.5" y2="344.5" stroke="#2a2a2a" stroke-width="0.75"/>
<text x="502.9" y="346.5" text-anchor="middle" font-size="5.6">75000</text>
<line x1="514.2" y1="366.3" x2="516.5" y2="366.3" stroke="#2a2a2a" stroke-width="0.75"/>
<text x="502.9" y="368.3" text-anchor="middle" font-size="5.6">70000</text>
<line x1="551.8" y1="237.8" x2="554.1" y2="237.8" stroke="#2a2a2a" stroke-width="0.75"/>
<text x="546.3" y="239.8" text-anchor="middle" font-size="5.6">25</text>
<line x1="551.8" y1="252.7" x2="554.1" y2="252.7" stroke="#2a2a2a" stroke-width="0.75"/>
<text x="546.3" y="254.7" text-anchor="middle" font-size="5.6">24</text>
<line x1="551.8" y1="267.6" x2="554.1" y2="267.6" stroke="#2a2a2a" stroke-width="0.75"/>
<text x="546.3" y="269.6" text-anchor="middle" font-size="5.6">23</text>
<line x1="551.8" y1="282.5" x2="554.1" y2="282.5" stroke="#2a2a2a" stroke-width="0.75"/>
<text x="546.3" y="284.5" text-anchor="middle" font-size="5.6">22</text>
<line x1="551.8" y1="297.4" x2="554.1" y2="297.4" stroke="#2a2a2a" stroke-width="0.75"/>
<text x="546.3" y="299.4" text-anchor="middle" font-size="5.6">21</text>
<line x1="551.8" y1="312.3" x2="554.1" y2="312.3" stroke="#2a2a2a" stroke-width="0.75"/>
<text x="546.3" y="314.3" text-anchor="middle" font-size="5.6">20</text>
<line x1="551.8" y1="327.2" x2="554.1" y2="327.2" stroke="#2a2a2a" stroke-width="0.75"/>
<text x="546.3" y="329.2" text-anchor="middle" font-size="5.6">19</text>
<line x1="551.8" y1="342.1" x2="554.1" y2="342.1" stroke="#2a2a2a" stroke-width="0.75"/>
<text x="546.3" y="344.1" text-anchor="middle" font-size="5.6">18</text>
<line x1="551.8" y1="357.0" x2="554.1" y2="357.0" stroke="#2a2a2a" stroke-width="0.75"/>
<text x="546.3" y="359.0" text-anchor="middle" font-size="5.6">17</text>
<line x1="551.8" y1="371.9" x2="554.1" y2="371.9" stroke="#2a2a2a" stroke-width="0.75"/>
<text x="546.3" y="373.9" text-anchor="middle" font-size="5.6">16</text>
<line x1="589.1" y1="235.8" x2="591.4" y2="235.8" stroke="#2a2a2a" stroke-width="0.75"/>
<text x="584.3" y="237.8" text-anchor="middle" font-size="5.6">45</text>
<line x1="589.1" y1="256.9" x2="591.4" y2="256.9" stroke="#2a2a2a" stroke-width="0.75"/>
<text x="584.3" y="258.9" text-anchor="middle" font-size="5.6">44</text>
<line x1="589.1" y1="277.9" x2="591.4" y2="277.9" stroke="#2a2a2a" stroke-width="0.75"/>
<text x="584.3" y="279.9" text-anchor="middle" font-size="5.6">43</text>
<line x1="589.1" y1="299.0" x2="591.4" y2="299.0" stroke="#2a2a2a" stroke-width="0.75"/>
<text x="584.3" y="301.0" text-anchor="middle" font-size="5.6">42</text>
<line x1="589.1" y1="320.0" x2="591.4" y2="320.0" stroke="#2a2a2a" stroke-width="0.75"/>
<text x="584.3" y="322.1" text-anchor="middle" font-size="5.6">41</text>
<line x1="589.1" y1="341.1" x2="591.4" y2="341.1" stroke="#2a2a2a" stroke-width="0.75"/>
<text x="584.3" y="343.1" text-anchor="middle" font-size="5.6">40</text>
<line x1="589.1" y1="362.2" x2="591.4" y2="362.2" stroke="#2a2a2a" stroke-width="0.75"/>
<text x="584.3" y="364.2" text-anchor="middle" font-size="5.6">39</text>
<line x1="628.6" y1="239.2" x2="630.9" y2="239.2" stroke="#2a2a2a" stroke-width="0.75"/>
<text x="637.2" y="241.2" text-anchor="middle" font-size="5.6">6.5</text>
<line x1="628.6" y1="281.9" x2="630.9" y2="281.9" stroke="#2a2a2a" stroke-width="0.75"/>
<text x="637.2" y="283.9" text-anchor="middle" font-size="5.6">6</text>
<line x1="628.6" y1="324.6" x2="630.9" y2="324.6" stroke="#2a2a2a" stroke-width="0.75"/>
<text x="637.2" y="326.6" text-anchor="middle" font-size="5.6">5.5</text>
<line x1="628.6" y1="367.3" x2="630.9" y2="367.3" stroke="#2a2a2a" stroke-width="0.75"/>
<text x="637.2" y="369.3" text-anchor="middle" font-size="5.6">5</text>
<line x1="666.4" y1="239.2" x2="668.7" y2="239.2" stroke="#2a2a2a" stroke-width="0.75"/>
<text x="674.0" y="241.2" text-anchor="middle" font-size="5.6">12</text>
<line x1="666.4" y1="262.4" x2="668.7" y2="262.4" stroke="#2a2a2a" stroke-width="0.75"/>
<text x="674.0" y="264.5" text-anchor="middle" font-size="5.6">10</text>
<line x1="666.4" y1="285.7" x2="668.7" y2="285.7" stroke="#2a2a2a" stroke-width="0.75"/>
<text x="674.0" y="287.7" text-anchor="middle" font-size="5.6">8</text>
<line x1="666.4" y1="308.9" x2="668.7" y2="308.9" stroke="#2a2a2a" stroke-width="0.75"/>
<text x="674.0" y="311.0" text-anchor="middle" font-size="5.6">6</text>
<line x1="666.4" y1="332.2" x2="668.7" y2="332.2" stroke="#2a2a2a" stroke-width="0.75"/>
<text x="674.0" y="334.2" text-anchor="middle" font-size="5.6">4</text>
<line x1="666.4" y1="355.4" x2="668.7" y2="355.4" stroke="#2a2a2a" stroke-width="0.75"/>
<text x="674.0" y="357.5" text-anchor="middle" font-size="5.6">2</text>
<text x="516.8" y="384.3" text-anchor="middle" font-size="5.4">H2(m<tspan font-size='3.4' dy='-1.6'>3</tspan><tspan dy='1.6'>/h)</tspan></text>
<text x="554.4" y="384.3" text-anchor="middle" font-size="5.4">KE(%)</text>
<text x="591.7" y="384.3" text-anchor="middle" font-size="5.4">DI(%)</text>
<text x="628.9" y="384.3" text-anchor="middle" font-size="5.4">LE(%)</text>
<text x="666.7" y="384.3" text-anchor="middle" font-size="5.4">BO(%)</text>
<text x="531.3" y="423.7" textLength="21.8" lengthAdjust="spacingAndGlyphs" font-family="Liberation Serif, serif" font-weight="bold" font-size="18.3" fill="#111">(f)</text>
<text x="563.2" y="423.7" textLength="80.0" lengthAdjust="spacingAndGlyphs" font-family="Liberation Serif, serif" font-size="18.3" fill="#111">PB-RVEA</text>
<line x1="268.9" y1="456.8" x2="268.9" y2="604.5" stroke="#3a3a3a" stroke-width="0.72"/>
<line x1="306.5" y1="456.8" x2="306.5" y2="604.5" stroke="#3a3a3a" stroke-width="0.72"/>
<line x1="343.7" y1="456.8" x2="343.7" y2="604.5" stroke="#3a3a3a" stroke-width="0.72"/>
<line x1="381.6" y1="456.8" x2="381.6" y2="604.5" stroke="#3a3a3a" stroke-width="0.72"/>
<line x1="418.6" y1="456.8" x2="418.6" y2="604.5" stroke="#3a3a3a" stroke-width="0.72"/>
<path d="M268.9 586.3 L306.5 465.0 L343.7 596.9 L381.6 465.6 L418.6 597.9 M268.9 596.0 L306.5 465.9 L343.7 595.7 L381.6 466.6 L418.6 597.4 M268.9 590.1 L306.5 467.1 L343.7 594.6 L381.6 467.0 L418.6 596.6 M268.9 596.0 L306.5 468.6 L343.7 594.4 L381.6 468.3 L418.6 594.8 M268.9 596.0 L306.5 469.5 L343.7 593.4 L381.6 468.6 L418.6 594.1 M268.9 575.3 L306.5 470.5 L343.7 591.0 L381.6 470.8 L418.6 593.1 M268.9 574.8 L306.5 470.6 L343.7 591.8 L381.6 470.9 L418.6 593.0 M268.9 580.8 L306.5 471.9 L343.7 589.8 L381.6 471.3 L418.6 591.9 M268.9 578.1 L306.5 472.7 L343.7 589.0 L381.6 472.8 L418.6 590.0 M268.9 594.6 L306.5 473.3 L343.7 587.6 L381.6 474.1 L418.6 588.9 M268.9 587.7 L306.5 474.7 L343.7 586.9 L381.6 475.2 L418.6 588.8 M268.9 582.9 L306.5 475.2 L343.7 586.5 L381.6 475.1 L418.6 587.9 M268.9 565.6 L306.5 476.8 L343.7 586.0 L381.6 476.0 L418.6 586.0 M268.9 585.2 L306.5 477.5 L343.7 584.2 L381.6 476.9 L418.6 586.2 M268.9 594.5 L306.5 478.2 L343.7 583.9 L381.6 477.7 L418.6 585.3 M268.9 577.7 L306.5 479.6 L343.7 582.1 L381.6 478.8 L418.6 584.5 M268.9 465.7 L306.5 480.7 L343.7 581.6 L381.6 480.9 L418.6 582.1 M268.9 573.1 L306.5 480.7 L343.7 581.1 L381.6 480.3 L418.6 582.2 M268.9 579.7 L306.5 481.9 L343.7 580.1 L381.6 481.3 L418.6 581.1 M268.9 557.9 L306.5 482.4 L343.7 579.4 L381.6 482.2 L418.6 580.5 M268.9 586.7 L306.5 483.8 L343.7 577.8 L381.6 482.9 L418.6 579.6 M268.9 579.7 L306.5 483.5 L343.7 577.9 L381.6 483.7 L418.6 579.2 M268.9 559.0 L306.5 484.8 L343.7 576.7 L381.6 484.9 L418.6 576.9 M268.9 573.3 L306.5 486.8 L343.7 575.3 L381.6 485.8 L418.6 577.0 M268.9 559.6 L306.5 488.0 L343.7 573.6 L381.6 487.5 L418.6 575.1 M268.9 580.5 L306.5 487.3 L343.7 573.9 L381.6 488.4 L418.6 574.5 M268.9 572.2 L306.5 488.4 L343.7 572.2 L381.6 488.6 L418.6 573.3 M268.9 551.3 L306.5 489.5 L343.7 572.6 L381.6 489.1 L418.6 573.7 M268.9 485.4 L306.5 490.3 L343.7 571.2 L381.6 489.9 L418.6 571.4 M268.9 562.6 L306.5 491.2 L343.7 570.0 L381.6 492.3 L418.6 570.3 M268.9 573.8 L306.5 492.2 L343.7 569.1 L381.6 491.7 L418.6 570.6 M268.9 569.1 L306.5 492.9 L343.7 568.2 L381.6 493.8 L418.6 569.2 M268.9 545.1 L306.5 493.3 L343.7 568.1 L381.6 493.4 L418.6 568.0 M268.9 572.3 L306.5 494.8 L343.7 566.0 L381.6 494.3 L418.6 567.9 M268.9 561.9 L306.5 495.9 L343.7 564.8 L381.6 496.0 L418.6 565.4 M268.9 557.5 L306.5 496.1 L343.7 565.0 L381.6 496.4 L418.6 565.2 M268.9 539.8 L306.5 498.1 L343.7 562.7 L381.6 498.3 L418.6 563.7 M268.9 551.7 L306.5 498.4 L343.7 563.1 L381.6 498.3 L418.6 564.6 M268.9 547.3 L306.5 499.4 L343.7 562.1 L381.6 500.2 L418.6 561.9 M268.9 564.0 L306.5 501.1 L343.7 561.0 L381.6 501.3 L418.6 561.0 M268.9 555.0 L306.5 501.1 L343.7 560.5 L381.6 502.0 L418.6 561.0 M268.9 556.1 L306.5 502.7 L343.7 559.4 L381.6 502.7 L418.6 560.7 M268.9 536.0 L306.5 502.7 L343.7 558.1 L381.6 503.3 L418.6 558.3 M268.9 560.3 L306.5 503.9 L343.7 556.9 L381.6 504.4 L418.6 557.4 M268.9 538.2 L306.5 504.8 L343.7 556.0 L381.6 505.4 L418.6 556.4 M268.9 539.7 L306.5 505.8 L343.7 554.6 L381.6 505.3 L418.6 555.2 M268.9 553.2 L306.5 507.0 L343.7 554.0 L381.6 507.1 L418.6 554.8 M268.9 553.2 L306.5 508.0 L343.7 553.8 L381.6 507.1 L418.6 554.4 M268.9 547.8 L306.5 509.0 L343.7 552.1 L381.6 509.1 L418.6 553.8 M268.9 548.8 L306.5 508.8 L343.7 551.7 L381.6 509.0 L418.6 552.7 M268.9 548.2 L306.5 509.7 L343.7 550.4 L381.6 509.7 L418.6 551.4 M268.9 532.3 L306.5 512.1 L343.7 549.5 L381.6 511.1 L418.6 550.3 M268.9 551.1 L306.5 511.3 L343.7 548.9 L381.6 511.8 L418.6 549.4 M268.9 541.8 L306.5 512.7 L343.7 548.2 L381.6 513.6 L418.6 549.0 M268.9 537.7 L306.5 514.0 L343.7 548.2 L381.6 513.4 L418.6 548.3 M268.9 523.2 L306.5 515.0 L343.7 545.9 L381.6 515.1 L418.6 546.6 M268.9 534.8 L306.5 516.2 L343.7 545.4 L381.6 516.8 L418.6 545.9 M268.9 535.3 L306.5 516.8 L343.7 544.7 L381.6 517.0 L418.6 545.2 M268.9 523.5 L306.5 518.2 L343.7 543.0 L381.6 517.4 L418.6 543.4 M268.9 529.5 L306.5 518.3 L343.7 542.9 L381.6 518.8 L418.6 543.0 M268.9 521.2 L306.5 518.9 L343.7 541.2 L381.6 519.8 L418.6 542.2 M268.9 535.6 L306.5 520.2 L343.7 540.7 L381.6 520.1 L418.6 541.2 M268.9 516.1 L306.5 521.8 L343.7 539.7 L381.6 520.7 L418.6 540.6 M268.9 533.0 L306.5 522.3 L343.7 539.4 L381.6 522.7 L418.6 538.6 M268.9 542.5 L306.5 522.7 L343.7 538.7 L381.6 522.6 L418.6 538.5 M268.9 513.7 L306.5 523.7 L343.7 537.3 L381.6 523.9 L418.6 538.3 M268.9 546.1 L306.5 524.4 L343.7 536.2 L381.6 525.6 L418.6 536.8 M268.9 554.9 L306.5 525.0 L343.7 535.9 L381.6 525.9 L418.6 535.5 M268.9 542.4 L306.5 526.1 L343.7 534.4 L381.6 525.6 L418.6 534.6 M268.9 519.4 L306.5 527.3 L343.7 533.4 L381.6 527.0 L418.6 534.4 M268.9 571.5 L306.5 528.4 L343.7 533.0 L381.6 528.6 L418.6 533.1 M268.9 533.1 L306.5 529.4 L343.7 531.7 L381.6 529.1 L418.6 531.7 M268.9 550.8 L306.5 531.0 L343.7 530.9 L381.6 530.7 L418.6 531.0 M268.9 534.3 L306.5 531.4 L343.7 528.7 L381.6 532.1 L418.6 529.9 M268.9 557.4 L306.5 534.1 L343.7 526.5 L381.6 535.2 L418.6 525.7 M268.9 536.6 L306.5 536.0 L343.7 525.2 L381.6 535.4 L418.6 525.0 M268.9 521.7 L306.5 538.8 L343.7 521.8 L381.6 538.6 L418.6 522.7 M268.9 546.8 L306.5 538.5 L343.7 522.2 L381.6 539.3 L418.6 520.9 M268.9 566.5 L306.5 541.0 L343.7 519.0 L381.6 541.5 L418.6 519.6 M268.9 514.9 L306.5 544.7 L343.7 515.6 L381.6 545.1 L418.6 515.3 M268.9 567.8 L306.5 546.6 L343.7 513.5 L381.6 547.4 L418.6 513.8 M268.9 541.0 L306.5 549.4 L343.7 511.5 L381.6 549.5 L418.6 511.4 M268.9 559.1 L306.5 550.3 L343.7 510.7 L381.6 550.6 L418.6 510.1 M268.9 534.9 L306.5 551.7 L343.7 507.8 L381.6 551.7 L418.6 508.7 M268.9 557.2 L306.5 554.6 L343.7 505.8 L381.6 554.9 L418.6 505.4 M268.9 554.6 L306.5 557.1 L343.7 503.0 L381.6 557.5 L418.6 502.5 M268.9 522.7 L306.5 558.3 L343.7 502.4 L381.6 558.0 L418.6 501.6 M268.9 506.5 L306.5 560.3 L343.7 499.2 L381.6 560.4 L418.6 499.1 M268.9 517.0 L306.5 564.1 L343.7 496.7 L381.6 563.1 L418.6 496.7 M268.9 520.1 L306.5 565.1 L343.7 496.5 L381.6 564.2 L418.6 494.6 M268.9 545.6 L306.5 567.7 L343.7 493.3 L381.6 566.6 L418.6 492.4 M268.9 533.1 L306.5 570.8 L343.7 489.9 L381.6 570.3 L418.6 489.1 M268.9 482.4 L306.5 572.9 L343.7 487.5 L381.6 572.7 L418.6 486.4 M268.9 506.3 L306.5 572.6 L343.7 486.5 L381.6 573.2 L418.6 486.8 M268.9 527.8 L306.5 575.1 L343.7 484.8 L381.6 574.7 L418.6 484.3 M268.9 552.9 L306.5 576.7 L343.7 482.4 L381.6 577.6 L418.6 481.7 M268.9 531.6 L306.5 578.8 L343.7 480.7 L381.6 579.7 L418.6 480.3 M268.9 540.3 L306.5 582.8 L343.7 477.7 L381.6 582.6 L418.6 476.6 M268.9 510.2 L306.5 585.5 L343.7 474.8 L381.6 585.6 L418.6 473.7 M268.9 556.2 L306.5 585.9 L343.7 474.6 L381.6 586.2 L418.6 472.6 M268.9 539.0 L306.5 588.0 L343.7 471.2 L381.6 588.3 L418.6 470.2 M268.9 505.7 L306.5 590.5 L343.7 468.6 L381.6 591.5 L418.6 467.4 M268.9 502.7 L306.5 591.7 L343.7 468.3 L381.6 591.7 L418.6 467.0 M268.9 478.3 L306.5 595.4 L343.7 464.4 L381.6 595.4 L418.6 462.7 M268.9 569.3 L306.5 465.0 L343.7 596.9 L381.6 465.6 L418.6 597.9 M268.9 595.1 L306.5 465.9 L343.7 595.7 L381.6 466.6 L418.6 597.4 M268.9 596.0 L306.5 467.1 L343.7 594.6 L381.6 467.0 L418.6 596.6 M268.9 593.5 L306.5 468.6 L343.7 594.4 L381.6 468.3 L418.6 594.8 M268.9 575.1 L306.5 469.5 L343.7 593.4 L381.6 468.6 L418.6 594.1 M268.9 587.9 L306.5 470.5 L343.7 591.0 L381.6 470.8 L418.6 593.1 M268.9 574.5 L306.5 470.6 L343.7 591.8 L381.6 470.9 L418.6 593.0 M268.9 591.9 L306.5 471.9 L343.7 589.8 L381.6 471.3 L418.6 591.9 M268.9 591.0 L306.5 472.7 L343.7 589.0 L381.6 472.8 L418.6 590.0 M268.9 586.7 L306.5 477.5 L343.7 584.2 L381.6 476.9 L418.6 586.2 M268.9 595.6 L306.5 478.2 L343.7 583.9 L381.6 477.7 L418.6 585.3 M268.9 584.2 L306.5 480.7 L343.7 581.1 L381.6 480.3 L418.6 582.2 M268.9 575.8 L306.5 482.4 L343.7 579.4 L381.6 482.2 L418.6 580.5 M268.9 585.6 L306.5 483.8 L343.7 577.8 L381.6 482.9 L418.6 579.6 M268.9 596.0 L306.5 483.5 L343.7 577.9 L381.6 483.7 L418.6 579.2 M268.9 561.8 L306.5 484.8 L343.7 576.7 L381.6 484.9 L418.6 576.9 M268.9 584.5 L306.5 486.8 L343.7 575.3 L381.6 485.8 L418.6 577.0 M268.9 570.0 L306.5 488.0 L343.7 573.6 L381.6 487.5 L418.6 575.1 M268.9 596.0 L306.5 487.3 L343.7 573.9 L381.6 488.4 L418.6 574.5 M268.9 560.0 L306.5 488.4 L343.7 572.2 L381.6 488.6 L418.6 573.3 M268.9 555.4 L306.5 492.2 L343.7 569.1 L381.6 491.7 L418.6 570.6 M268.9 591.5 L306.5 494.8 L343.7 566.0 L381.6 494.3 L418.6 567.9 M268.9 541.4 L306.5 495.9 L343.7 564.8 L381.6 496.0 L418.6 565.4 M268.9 550.4 L306.5 496.1 L343.7 565.0 L381.6 496.4 L418.6 565.2 M268.9 556.8 L306.5 498.1 L343.7 562.7 L381.6 498.3 L418.6 563.7 M268.9 544.9 L306.5 499.4 L343.7 562.1 L381.6 500.2 L418.6 561.9 M268.9 571.5 L306.5 501.1 L343.7 561.0 L381.6 501.3 L418.6 561.0 M268.9 547.7 L306.5 501.1 L343.7 560.5 L381.6 502.0 L418.6 561.0 M268.9 554.9 L306.5 502.7 L343.7 559.4 L381.6 502.7 L418.6 560.7 M268.9 540.2 L306.5 502.7 L343.7 558.1 L381.6 503.3 L418.6 558.3 M268.9 541.9 L306.5 508.0 L343.7 553.8 L381.6 507.1 L418.6 554.4 M268.9 554.1 L306.5 509.0 L343.7 552.1 L381.6 509.1 L418.6 553.8 M268.9 569.8 L306.5 509.7 L343.7 550.4 L381.6 509.7 L418.6 551.4 M268.9 520.0 L306.5 512.1 L343.7 549.5 L381.6 511.1 L418.6 550.3 M268.9 538.4 L306.5 511.3 L343.7 548.9 L381.6 511.8 L418.6 549.4 M268.9 520.0 L306.5 515.0 L343.7 545.9 L381.6 515.1 L418.6 546.6 M268.9 547.4 L306.5 516.2 L343.7 545.4 L381.6 516.8 L418.6 545.9 M268.9 520.0 L306.5 518.2 L343.7 543.0 L381.6 517.4 L418.6 543.4 M268.9 526.9 L306.5 521.8 L343.7 539.7 L381.6 520.7 L418.6 540.6 M268.9 532.5 L306.5 522.7 L343.7 538.7 L381.6 522.6 L418.6 538.5 M268.9 520.8 L306.5 523.7 L343.7 537.3 L381.6 523.9 L418.6 538.3 M268.9 552.2 L306.5 524.4 L343.7 536.2 L381.6 525.6 L418.6 536.8" fill="none" stroke="#0072BD" stroke-width="0.5" stroke-opacity="1" stroke-linejoin="round"/>
<path d="M268.9 560.9 L306.5 507.3 L343.7 516.0 L381.6 504.2 L418.6 566.2 M268.9 562.4 L306.5 509.5 L343.7 514.3 L381.6 507.1 L418.6 562.2 M268.9 566.6 L306.5 510.0 L343.7 512.7 L381.6 507.9 L418.6 562.0 M268.9 576.2 L306.5 511.3 L343.7 512.4 L381.6 509.0 L418.6 559.7 M268.9 566.7 L306.5 514.6 L343.7 510.8 L381.6 511.9 L418.6 557.7 M268.9 573.5 L306.5 516.7 L343.7 510.2 L381.6 514.3 L418.6 556.2 M268.9 563.4 L306.5 517.2 L343.7 509.3 L381.6 516.1 L418.6 555.2 M268.9 565.3 L306.5 519.5 L343.7 508.2 L381.6 516.6 L418.6 553.7 M268.9 565.9 L306.5 520.7 L343.7 506.4 L381.6 519.1 L418.6 550.9 M268.9 576.6 L306.5 522.2 L343.7 506.4 L381.6 521.1 L418.6 550.4 M268.9 577.1 L306.5 524.2 L343.7 504.8 L381.6 521.8 L418.6 547.7 M268.9 576.0 L306.5 524.8 L343.7 505.0 L381.6 521.8 L418.6 548.1 M268.9 569.8 L306.5 527.2 L343.7 503.3 L381.6 524.6 L418.6 545.2 M268.9 574.0 L306.5 529.2 L343.7 501.7 L381.6 527.5 L418.6 543.4 M268.9 566.7 L306.5 530.4 L343.7 501.5 L381.6 528.5 L418.6 541.1 M268.9 577.7 L306.5 530.6 L343.7 500.7 L381.6 528.4 L418.6 541.8 M268.9 577.2 L306.5 530.9 L343.7 500.3 L381.6 529.2 L418.6 540.5 M268.9 568.0 L306.5 532.4 L343.7 499.6 L381.6 530.7 L418.6 538.3 M268.9 561.2 L306.5 534.1 L343.7 499.5 L381.6 532.3 L418.6 538.6 M268.9 574.3 L306.5 535.0 L343.7 498.4 L381.6 533.2 L418.6 537.0 M268.9 567.9 L306.5 534.8 L343.7 498.1 L381.6 534.5 L418.6 537.3 M268.9 565.3 L306.5 535.4 L343.7 499.1 L381.6 533.4 L418.6 536.0 M268.9 558.6 L306.5 535.8 L343.7 497.7 L381.6 534.5 L418.6 535.3 M268.9 561.5 L306.5 537.3 L343.7 496.8 L381.6 535.7 L418.6 535.1 M268.9 557.8 L306.5 537.8 L343.7 497.6 L381.6 535.8 L418.6 533.9 M268.9 553.2 L306.5 538.8 L343.7 496.4 L381.6 536.6 L418.6 533.3 M268.9 574.7 L306.5 539.7 L343.7 496.1 L381.6 537.3 L418.6 531.8 M268.9 560.6 L306.5 539.5 L343.7 496.8 L381.6 537.8 L418.6 532.4 M268.9 538.9 L306.5 540.5 L343.7 494.6 L381.6 540.3 L418.6 530.9 M268.9 574.2 L306.5 541.1 L343.7 494.3 L381.6 540.5 L418.6 530.3 M268.9 571.0 L306.5 542.2 L343.7 493.9 L381.6 541.2 L418.6 528.5 M268.9 560.8 L306.5 542.9 L343.7 494.8 L381.6 542.3 L418.6 529.3 M268.9 543.0 L306.5 542.8 L343.7 494.3 L381.6 542.3 L418.6 529.0 M268.9 546.1 L306.5 545.2 L343.7 493.7 L381.6 543.9 L418.6 527.9 M268.9 531.6 L306.5 545.6 L343.7 493.5 L381.6 544.2 L418.6 525.8 M268.9 566.1 L306.5 545.3 L343.7 492.3 L381.6 545.4 L418.6 526.1 M268.9 472.5 L306.5 545.7 L343.7 492.6 L381.6 545.4 L418.6 525.1 M268.9 569.4 L306.5 546.4 L343.7 491.1 L381.6 545.8 L418.6 524.0 M268.9 541.6 L306.5 548.2 L343.7 490.6 L381.6 546.7 L418.6 524.1 M268.9 569.0 L306.5 548.0 L343.7 490.3 L381.6 547.6 L418.6 523.5 M268.9 472.1 L306.5 548.7 L343.7 490.5 L381.6 548.3 L418.6 522.9 M268.9 472.7 L306.5 549.4 L343.7 490.5 L381.6 549.8 L418.6 520.9 M268.9 528.7 L306.5 551.2 L343.7 490.1 L381.6 550.5 L418.6 520.2 M268.9 543.3 L306.5 551.6 L343.7 489.5 L381.6 551.4 L418.6 520.2 M268.9 472.8 L306.5 552.5 L343.7 488.6 L381.6 551.7 L418.6 518.0 M268.9 527.0 L306.5 552.8 L343.7 488.5 L381.6 552.0 L418.6 518.5 M268.9 569.7 L306.5 554.2 L343.7 488.4 L381.6 553.6 L418.6 518.0 M268.9 575.0 L306.5 554.8 L343.7 486.9 L381.6 554.4 L418.6 516.0 M268.9 568.0 L306.5 555.2 L343.7 486.0 L381.6 554.6 L418.6 515.8 M268.9 519.7 L306.5 556.6 L343.7 486.4 L381.6 556.0 L418.6 515.1 M268.9 525.5 L306.5 557.0 L343.7 486.5 L381.6 557.1 L418.6 514.0 M268.9 517.1 L306.5 557.1 L343.7 486.1 L381.6 556.3 L418.6 513.4 M268.9 526.2 L306.5 557.7 L343.7 485.2 L381.6 557.2 L418.6 513.3 M268.9 473.0 L306.5 559.1 L343.7 484.5 L381.6 558.2 L418.6 512.8 M268.9 517.7 L306.5 560.8 L343.7 484.4 L381.6 559.6 L418.6 511.8 M268.9 566.9 L306.5 560.7 L343.7 484.4 L381.6 559.3 L418.6 511.8 M268.9 523.8 L306.5 561.7 L343.7 483.1 L381.6 560.4 L418.6 509.0 M268.9 568.1 L306.5 562.9 L343.7 482.7 L381.6 562.3 L418.6 509.1 M268.9 527.7 L306.5 563.1 L343.7 481.8 L381.6 562.8 L418.6 508.6 M268.9 559.9 L306.5 563.2 L343.7 482.1 L381.6 563.0 L418.6 507.1 M268.9 556.1 L306.5 564.1 L343.7 481.6 L381.6 565.0 L418.6 506.1 M268.9 509.5 L306.5 566.1 L343.7 481.0 L381.6 565.3 L418.6 505.8 M268.9 519.1 L306.5 566.7 L343.7 480.1 L381.6 565.8 L418.6 505.2 M268.9 519.6 L306.5 566.7 L343.7 480.9 L381.6 566.8 L418.6 504.0 M268.9 508.8 L306.5 567.5 L343.7 479.9 L381.6 566.6 L418.6 503.4 M268.9 573.7 L306.5 567.9 L343.7 479.4 L381.6 567.6 L418.6 503.5 M268.9 565.6 L306.5 569.6 L343.7 479.1 L381.6 568.4 L418.6 502.0 M268.9 504.5 L306.5 569.2 L343.7 479.2 L381.6 569.0 L418.6 502.2 M268.9 558.0 L306.5 570.6 L343.7 478.1 L381.6 570.4 L418.6 501.4 M268.9 497.0 L306.5 570.3 L343.7 477.0 L381.6 571.4 L418.6 499.7 M268.9 499.6 L306.5 572.2 L343.7 476.7 L381.6 571.0 L418.6 498.8 M268.9 570.8 L306.5 572.9 L343.7 477.4 L381.6 572.5 L418.6 499.2 M268.9 494.2 L306.5 573.3 L343.7 476.3 L381.6 572.8 L418.6 498.4 M268.9 493.0 L306.5 574.5 L343.7 475.7 L381.6 574.1 L418.6 496.4 M268.9 577.9 L306.5 575.4 L343.7 475.0 L381.6 575.3 L418.6 496.2 M268.9 501.9 L306.5 576.3 L343.7 475.1 L381.6 575.5 L418.6 495.1" fill="none" stroke="#D95319" stroke-width="0.5" stroke-opacity="1" stroke-linejoin="round"/>
<line x1="268.9" y1="456.8" x2="268.9" y2="604.5" stroke="#3a3a3a" stroke-width="0.72" stroke-opacity="0.3"/>
<line x1="306.5" y1="456.8" x2="306.5" y2="604.5" stroke="#3a3a3a" stroke-width="0.72" stroke-opacity="0.3"/>
<line x1="343.7" y1="456.8" x2="343.7" y2="604.5" stroke="#3a3a3a" stroke-width="0.72" stroke-opacity="0.3"/>
<line x1="381.6" y1="456.8" x2="381.6" y2="604.5" stroke="#3a3a3a" stroke-width="0.72" stroke-opacity="0.3"/>
<line x1="418.6" y1="456.8" x2="418.6" y2="604.5" stroke="#3a3a3a" stroke-width="0.72" stroke-opacity="0.3"/>
<line x1="250.9" y1="604.5" x2="437.6" y2="604.5" stroke="#444" stroke-width="0.85"/>
<line x1="266.6" y1="471.9" x2="268.9" y2="471.9" stroke="#2a2a2a" stroke-width="0.75"/>
<text x="254.7" y="473.9" text-anchor="middle" font-size="5.6">100000</text>
<line x1="266.6" y1="492.3" x2="268.9" y2="492.3" stroke="#2a2a2a" stroke-width="0.75"/>
<text x="254.7" y="494.3" text-anchor="middle" font-size="5.6">95000</text>
<line x1="266.6" y1="512.6" x2="268.9" y2="512.6" stroke="#2a2a2a" stroke-width="0.75"/>
<text x="254.7" y="514.7" text-anchor="middle" font-size="5.6">90000</text>
<line x1="266.6" y1="533.0" x2="268.9" y2="533.0" stroke="#2a2a2a" stroke-width="0.75"/>
<text x="254.7" y="535.0" text-anchor="middle" font-size="5.6">85000</text>
<line x1="266.6" y1="553.4" x2="268.9" y2="553.4" stroke="#2a2a2a" stroke-width="0.75"/>
<text x="254.7" y="555.4" text-anchor="middle" font-size="5.6">80000</text>
<line x1="266.6" y1="573.8" x2="268.9" y2="573.8" stroke="#2a2a2a" stroke-width="0.75"/>
<text x="254.7" y="575.8" text-anchor="middle" font-size="5.6">75000</text>
<line x1="266.6" y1="594.1" x2="268.9" y2="594.1" stroke="#2a2a2a" stroke-width="0.75"/>
<text x="254.7" y="596.1" text-anchor="middle" font-size="5.6">70000</text>
<line x1="304.2" y1="462.2" x2="306.5" y2="462.2" stroke="#2a2a2a" stroke-width="0.75"/>
<text x="299.2" y="464.2" text-anchor="middle" font-size="5.6">26</text>
<line x1="304.2" y1="473.9" x2="306.5" y2="473.9" stroke="#2a2a2a" stroke-width="0.75"/>
<text x="299.2" y="475.9" text-anchor="middle" font-size="5.6">25</text>
<line x1="304.2" y1="485.5" x2="306.5" y2="485.5" stroke="#2a2a2a" stroke-width="0.75"/>
<text x="299.2" y="487.5" text-anchor="middle" font-size="5.6">24</text>
<line x1="304.2" y1="497.2" x2="306.5" y2="497.2" stroke="#2a2a2a" stroke-width="0.75"/>
<text x="299.2" y="499.2" text-anchor="middle" font-size="5.6">23</text>
<line x1="304.2" y1="508.8" x2="306.5" y2="508.8" stroke="#2a2a2a" stroke-width="0.75"/>
<text x="299.2" y="510.9" text-anchor="middle" font-size="5.6">22</text>
<line x1="304.2" y1="520.5" x2="306.5" y2="520.5" stroke="#2a2a2a" stroke-width="0.75"/>
<text x="299.2" y="522.5" text-anchor="middle" font-size="5.6">21</text>
<line x1="304.2" y1="532.2" x2="306.5" y2="532.2" stroke="#2a2a2a" stroke-width="0.75"/>
<text x="299.2" y="534.2" text-anchor="middle" font-size="5.6">20</text>
<line x1="304.2" y1="543.8" x2="306.5" y2="543.8" stroke="#2a2a2a" stroke-width="0.75"/>
<text x="299.2" y="545.8" text-anchor="middle" font-size="5.6">19</text>
<line x1="304.2" y1="555.5" x2="306.5" y2="555.5" stroke="#2a2a2a" stroke-width="0.75"/>
<text x="299.2" y="557.5" text-anchor="middle" font-size="5.6">18</text>
<line x1="304.2" y1="567.1" x2="306.5" y2="567.1" stroke="#2a2a2a" stroke-width="0.75"/>
<text x="299.2" y="569.2" text-anchor="middle" font-size="5.6">17</text>
<line x1="304.2" y1="578.8" x2="306.5" y2="578.8" stroke="#2a2a2a" stroke-width="0.75"/>
<text x="299.2" y="580.8" text-anchor="middle" font-size="5.6">16</text>
<line x1="304.2" y1="590.5" x2="306.5" y2="590.5" stroke="#2a2a2a" stroke-width="0.75"/>
<text x="299.2" y="592.5" text-anchor="middle" font-size="5.6">15</text>
<line x1="304.2" y1="602.1" x2="306.5" y2="602.1" stroke="#2a2a2a" stroke-width="0.75"/>
<line x1="341.4" y1="460.5" x2="343.7" y2="460.5" stroke="#2a2a2a" stroke-width="0.75"/>
<text x="335.9" y="462.5" text-anchor="middle" font-size="5.6">46</text>
<line x1="341.4" y1="478.1" x2="343.7" y2="478.1" stroke="#2a2a2a" stroke-width="0.75"/>
<text x="335.9" y="480.1" text-anchor="middle" font-size="5.6">45</text>
<line x1="341.4" y1="495.7" x2="343.7" y2="495.7" stroke="#2a2a2a" stroke-width="0.75"/>
<text x="335.9" y="497.7" text-anchor="middle" font-size="5.6">44</text>
<line x1="341.4" y1="513.3" x2="343.7" y2="513.3" stroke="#2a2a2a" stroke-width="0.75"/>
<text x="335.9" y="515.3" text-anchor="middle" font-size="5.6">43</text>
<line x1="341.4" y1="530.9" x2="343.7" y2="530.9" stroke="#2a2a2a" stroke-width="0.75"/>
<text x="335.9" y="532.9" text-anchor="middle" font-size="5.6">42</text>
<line x1="341.4" y1="548.5" x2="343.7" y2="548.5" stroke="#2a2a2a" stroke-width="0.75"/>
<text x="335.9" y="550.5" text-anchor="middle" font-size="5.6">41</text>
<line x1="341.4" y1="566.0" x2="343.7" y2="566.0" stroke="#2a2a2a" stroke-width="0.75"/>
<text x="335.9" y="568.1" text-anchor="middle" font-size="5.6">40</text>
<line x1="341.4" y1="583.6" x2="343.7" y2="583.6" stroke="#2a2a2a" stroke-width="0.75"/>
<text x="335.9" y="585.6" text-anchor="middle" font-size="5.6">39</text>
<line x1="341.4" y1="601.2" x2="343.7" y2="601.2" stroke="#2a2a2a" stroke-width="0.75"/>
<text x="335.9" y="603.2" text-anchor="middle" font-size="5.6">38</text>
<line x1="381.6" y1="465.9" x2="383.9" y2="465.9" stroke="#2a2a2a" stroke-width="0.75"/>
<text x="389.2" y="467.9" text-anchor="middle" font-size="5.6">6.8</text>
<line x1="381.6" y1="475.1" x2="383.9" y2="475.1" stroke="#2a2a2a" stroke-width="0.75"/>
<text x="389.2" y="477.1" text-anchor="middle" font-size="5.6">6.6</text>
<line x1="381.6" y1="484.4" x2="383.9" y2="484.4" stroke="#2a2a2a" stroke-width="0.75"/>
<text x="389.2" y="486.4" text-anchor="middle" font-size="5.6">6.4</text>
<line x1="381.6" y1="493.6" x2="383.9" y2="493.6" stroke="#2a2a2a" stroke-width="0.75"/>
<text x="389.2" y="495.6" text-anchor="middle" font-size="5.6">6.2</text>
<line x1="381.6" y1="502.8" x2="383.9" y2="502.8" stroke="#2a2a2a" stroke-width="0.75"/>
<text x="389.2" y="504.8" text-anchor="middle" font-size="5.6">6</text>
<line x1="381.6" y1="512.0" x2="383.9" y2="512.0" stroke="#2a2a2a" stroke-width="0.75"/>
<text x="389.2" y="514.1" text-anchor="middle" font-size="5.6">5.8</text>
<line x1="381.6" y1="521.3" x2="383.9" y2="521.3" stroke="#2a2a2a" stroke-width="0.75"/>
<text x="389.2" y="523.3" text-anchor="middle" font-size="5.6">5.6</text>
<line x1="381.6" y1="530.5" x2="383.9" y2="530.5" stroke="#2a2a2a" stroke-width="0.75"/>
<text x="389.2" y="532.5" text-anchor="middle" font-size="5.6">5.4</text>
<line x1="381.6" y1="539.7" x2="383.9" y2="539.7" stroke="#2a2a2a" stroke-width="0.75"/>
<text x="389.2" y="541.8" text-anchor="middle" font-size="5.6">5.2</text>
<line x1="381.6" y1="549.0" x2="383.9" y2="549.0" stroke="#2a2a2a" stroke-width="0.75"/>
<text x="389.2" y="551.0" text-anchor="middle" font-size="5.6">5</text>
<line x1="381.6" y1="558.2" x2="383.9" y2="558.2" stroke="#2a2a2a" stroke-width="0.75"/>
<text x="389.2" y="560.2" text-anchor="middle" font-size="5.6">4.8</text>
<line x1="381.6" y1="567.4" x2="383.9" y2="567.4" stroke="#2a2a2a" stroke-width="0.75"/>
<text x="389.2" y="569.4" text-anchor="middle" font-size="5.6">4.6</text>
<line x1="381.6" y1="576.7" x2="383.9" y2="576.7" stroke="#2a2a2a" stroke-width="0.75"/>
<text x="389.2" y="578.7" text-anchor="middle" font-size="5.6">4.4</text>
<line x1="418.6" y1="464.2" x2="420.9" y2="464.2" stroke="#2a2a2a" stroke-width="0.75"/>
<text x="426.0" y="466.2" text-anchor="middle" font-size="5.6">16</text>
<line x1="418.6" y1="481.1" x2="420.9" y2="481.1" stroke="#2a2a2a" stroke-width="0.75"/>
<text x="426.0" y="483.1" text-anchor="middle" font-size="5.6">14</text>
<line x1="418.6" y1="497.9" x2="420.9" y2="497.9" stroke="#2a2a2a" stroke-width="0.75"/>
<text x="426.0" y="500.0" text-anchor="middle" font-size="5.6">12</text>
<line x1="418.6" y1="514.8" x2="420.9" y2="514.8" stroke="#2a2a2a" stroke-width="0.75"/>
<text x="426.0" y="516.8" text-anchor="middle" font-size="5.6">10</text>
<line x1="418.6" y1="531.7" x2="420.9" y2="531.7" stroke="#2a2a2a" stroke-width="0.75"/>
<text x="426.0" y="533.7" text-anchor="middle" font-size="5.6">8</text>
<line x1="418.6" y1="548.5" x2="420.9" y2="548.5" stroke="#2a2a2a" stroke-width="0.75"/>
<text x="426.0" y="550.6" text-anchor="middle" font-size="5.6">6</text>
<line x1="418.6" y1="565.4" x2="420.9" y2="565.4" stroke="#2a2a2a" stroke-width="0.75"/>
<text x="426.0" y="567.4" text-anchor="middle" font-size="5.6">4</text>
<line x1="418.6" y1="582.3" x2="420.9" y2="582.3" stroke="#2a2a2a" stroke-width="0.75"/>
<text x="426.0" y="584.3" text-anchor="middle" font-size="5.6">2</text>
<line x1="418.6" y1="599.2" x2="420.9" y2="599.2" stroke="#2a2a2a" stroke-width="0.75"/>
<text x="426.0" y="601.2" text-anchor="middle" font-size="5.6">0</text>
<text x="269.2" y="612.8" text-anchor="middle" font-size="5.4">H2(m<tspan font-size='3.4' dy='-1.6'>3</tspan><tspan dy='1.6'>/h)</tspan></text>
<text x="306.8" y="612.8" text-anchor="middle" font-size="5.4">KE(%)</text>
<text x="344.0" y="612.8" text-anchor="middle" font-size="5.4">DI(%)</text>
<text x="381.9" y="612.8" text-anchor="middle" font-size="5.4">LE(%)</text>
<text x="418.9" y="612.8" text-anchor="middle" font-size="5.4">BO(%)</text>
<text x="272.4" y="650.9" textLength="23.2" lengthAdjust="spacingAndGlyphs" font-family="Liberation Serif, serif" font-weight="bold" font-size="18.3" fill="#111">(g)</text>
<text x="307.1" y="650.9" textLength="100.3" lengthAdjust="spacingAndGlyphs" font-family="Liberation Serif, serif" font-size="18.3" fill="#111">TDP-MOEA</text>
</svg>
</body></html>
